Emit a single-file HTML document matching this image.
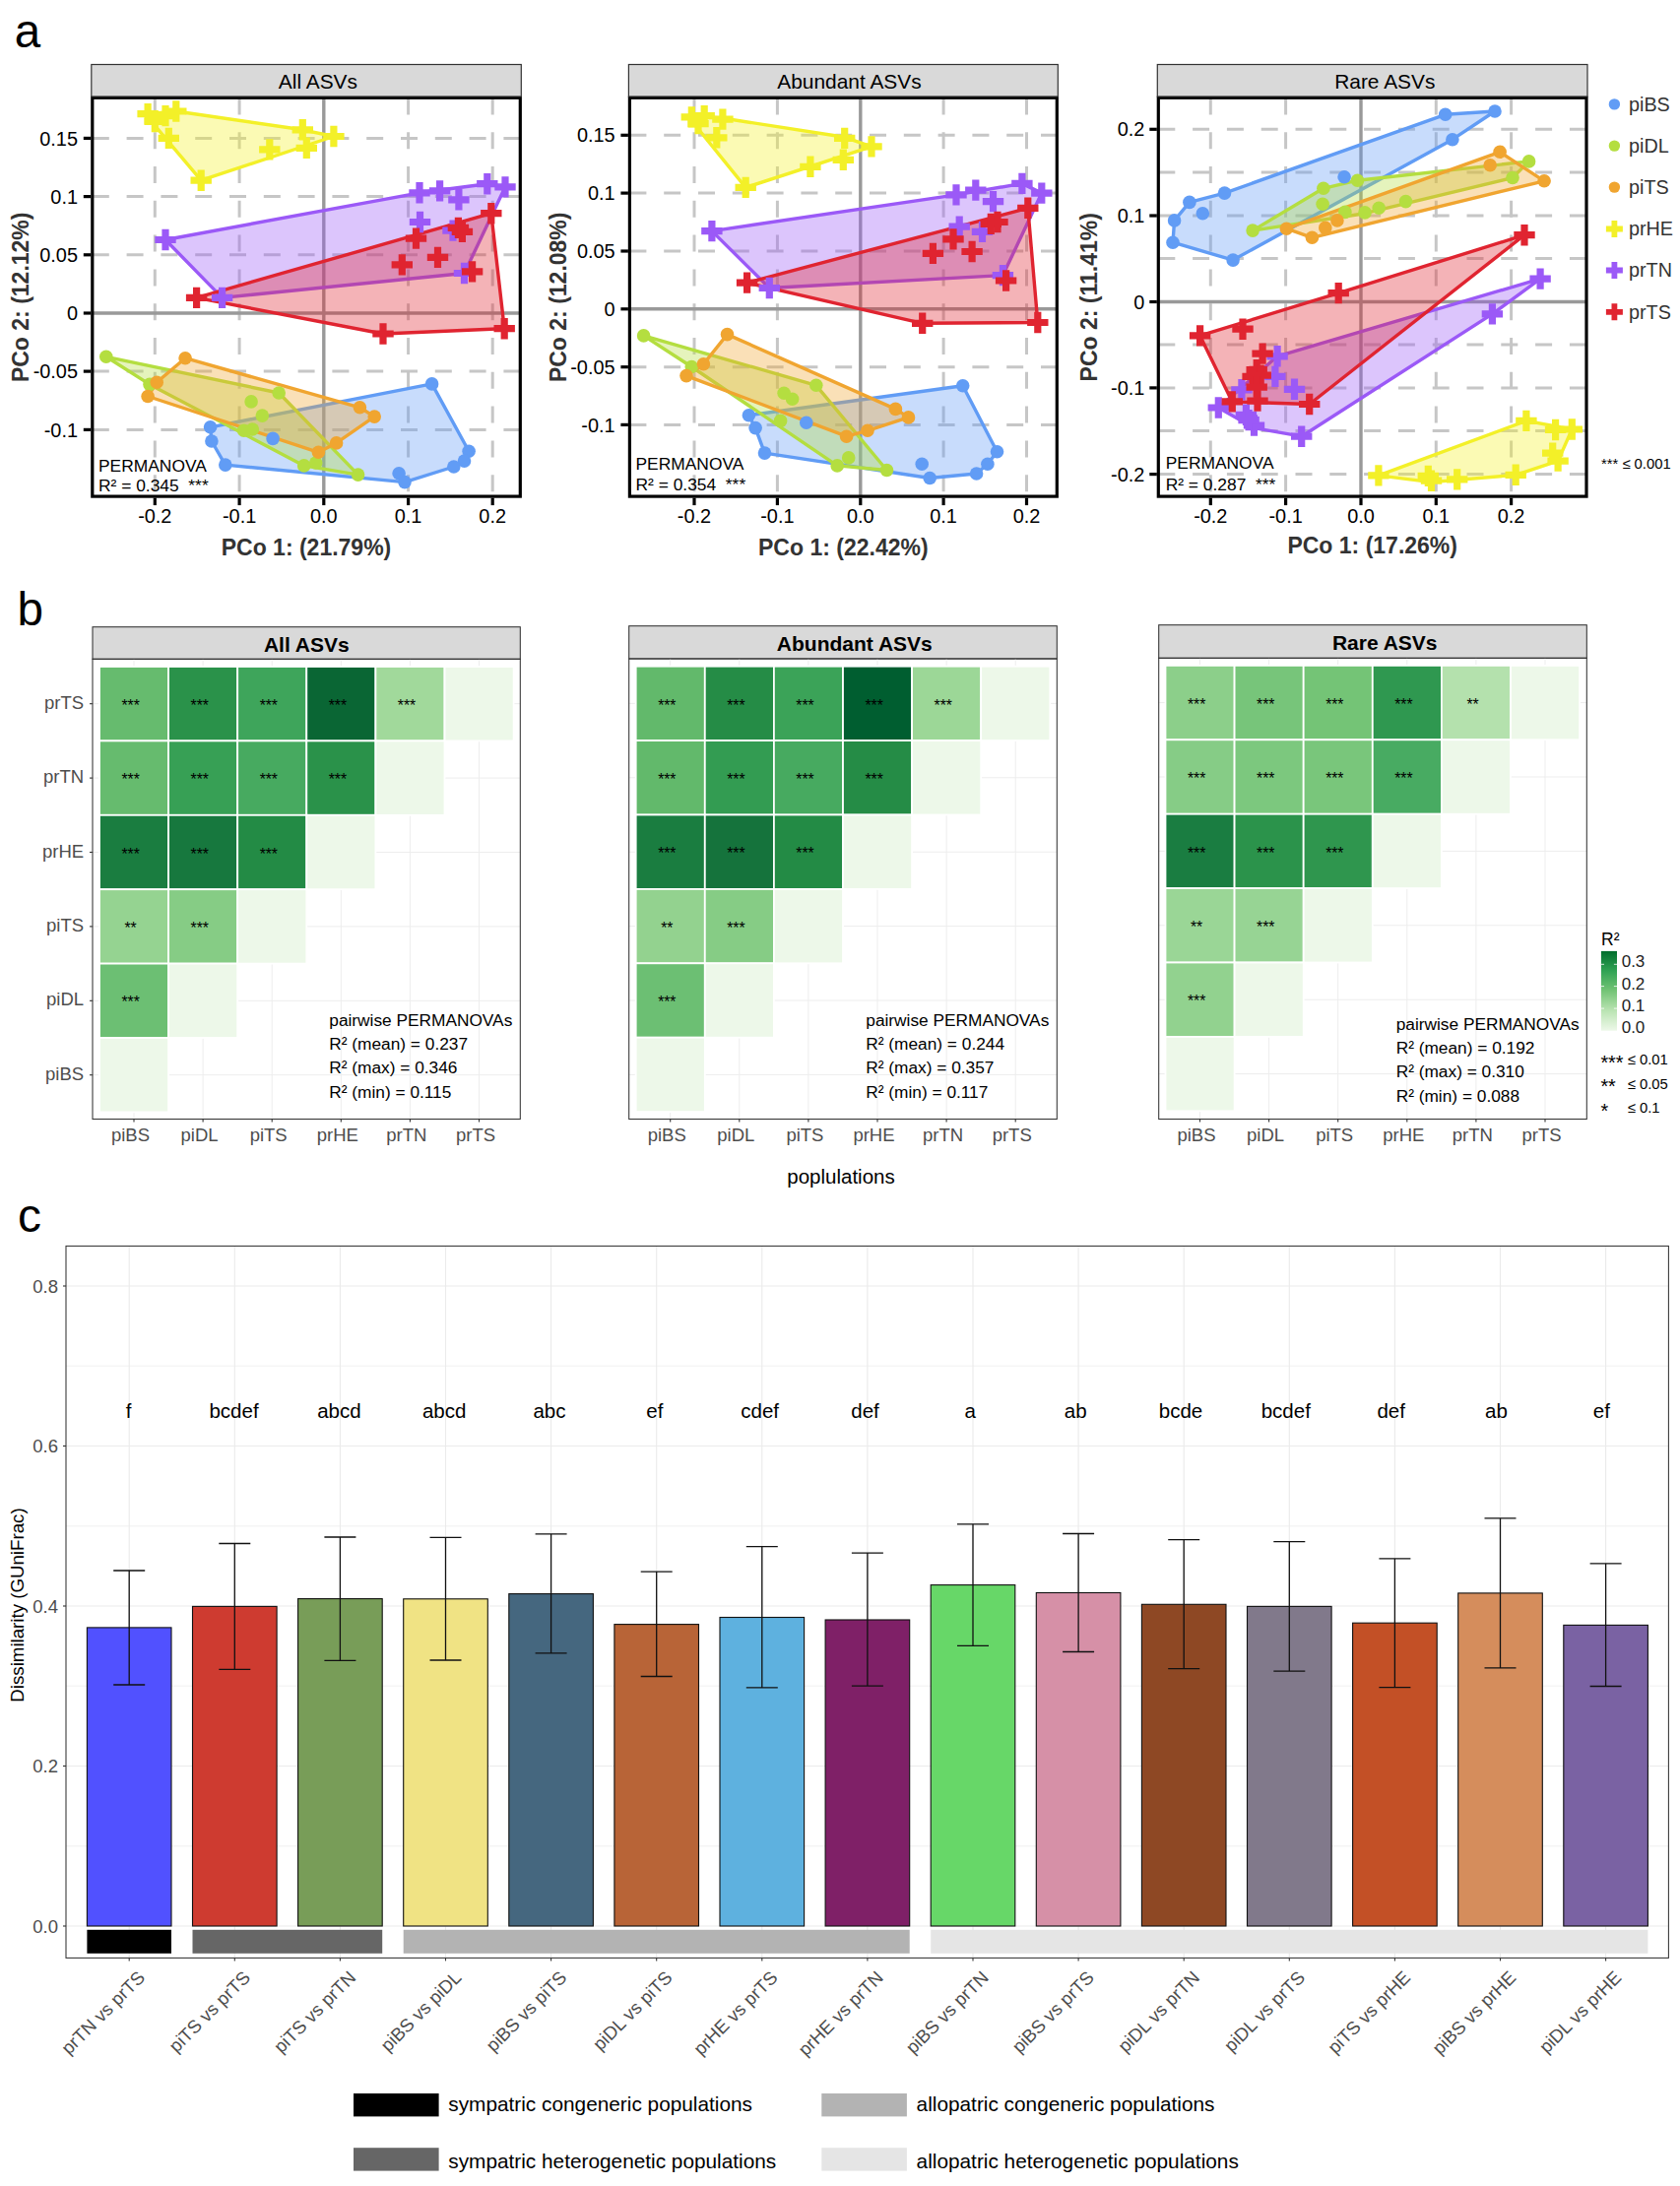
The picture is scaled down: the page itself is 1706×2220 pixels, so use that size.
<!DOCTYPE html><html><head><meta charset="utf-8"><title>fig</title><style>html,body{margin:0;padding:0;background:#fff}svg{display:block}text{font-family:"Liberation Sans",sans-serif}</style></head><body>
<svg width="1706" height="2220" viewBox="0 0 1706 2220">
<rect width="1706" height="2220" fill="#fff"/>
<text x="14.7" y="47.5" font-size="47.5" fill="#000">a</text>
<text x="17.4" y="634.8" font-size="47.7" fill="#000">b</text>
<text x="18.0" y="1251.2" font-size="47.8" fill="#000">c</text>
<g id="pa1">
<clipPath id="cl1"><rect x="93.8" y="99.4" width="434.5" height="404.7"/></clipPath>
<g clip-path="url(#cl1)">
<line x1="157.3" y1="99.4" x2="157.3" y2="504.1" stroke="#C6C6C6" stroke-width="3.0" stroke-dasharray="17 17.8"/>
<line x1="243.1" y1="99.4" x2="243.1" y2="504.1" stroke="#C6C6C6" stroke-width="3.0" stroke-dasharray="17 17.8"/>
<line x1="414.6" y1="99.4" x2="414.6" y2="504.1" stroke="#C6C6C6" stroke-width="3.0" stroke-dasharray="17 17.8"/>
<line x1="500.2" y1="99.4" x2="500.2" y2="504.1" stroke="#C6C6C6" stroke-width="3.0" stroke-dasharray="17 17.8"/>
<line x1="93.8" y1="140.4" x2="528.3" y2="140.4" stroke="#C6C6C6" stroke-width="3.0" stroke-dasharray="17 17.8"/>
<line x1="93.8" y1="199.6" x2="528.3" y2="199.6" stroke="#C6C6C6" stroke-width="3.0" stroke-dasharray="17 17.8"/>
<line x1="93.8" y1="258.8" x2="528.3" y2="258.8" stroke="#C6C6C6" stroke-width="3.0" stroke-dasharray="17 17.8"/>
<line x1="93.8" y1="377.1" x2="528.3" y2="377.1" stroke="#C6C6C6" stroke-width="3.0" stroke-dasharray="17 17.8"/>
<line x1="93.8" y1="436.4" x2="528.3" y2="436.4" stroke="#C6C6C6" stroke-width="3.0" stroke-dasharray="17 17.8"/>
<line x1="328.8" y1="99.4" x2="328.8" y2="504.1" stroke="#999" stroke-width="3.4"/>
<line x1="93.8" y1="318.0" x2="528.3" y2="318.0" stroke="#999" stroke-width="3.4"/>
<polygon points="438.6,389.9 476.1,458.2 471.5,468.1 460.8,474.0 411.0,489.6 228.8,472.1 214.9,448.0 213.6,433.8" fill="#619CF5" fill-opacity="0.35" stroke="#619CF5" stroke-width="3.4" stroke-linejoin="round"/>
<polygon points="107.8,362.3 283.2,399.0 363.6,482.1 308.7,472.9 152.0,390.4" fill="#B4DE40" fill-opacity="0.35" stroke="#B4DE40" stroke-width="3.4" stroke-linejoin="round"/>
<polygon points="188.1,363.7 365.4,413.8 380.2,423.1 341.6,449.9 323.4,459.3 150.1,402.5 159.2,388.3" fill="#F0A530" fill-opacity="0.35" stroke="#F0A530" stroke-width="3.4" stroke-linejoin="round"/>
<polygon points="150.1,115.7 178.8,113.0 307.3,131.8 338.9,138.5 204.2,183.2 155.2,125.1" fill="#F3F028" fill-opacity="0.35" stroke="#F3F028" stroke-width="3.4" stroke-linejoin="round"/>
<polygon points="168.0,243.5 426.0,195.8 494.8,186.7 513.0,189.9 471.5,277.5 225.6,302.4" fill="#9B59F7" fill-opacity="0.35" stroke="#9B59F7" stroke-width="3.4" stroke-linejoin="round"/>
<polygon points="199.6,302.4 498.8,216.7 512.2,333.7 389.0,339.0" fill="#E02430" fill-opacity="0.35" stroke="#E02430" stroke-width="3.4" stroke-linejoin="round"/>
<circle cx="438.6" cy="389.9" r="6.8" fill="#619CF5"/>
<circle cx="213.6" cy="433.8" r="6.8" fill="#619CF5"/>
<circle cx="214.9" cy="448.0" r="6.8" fill="#619CF5"/>
<circle cx="228.8" cy="472.1" r="6.8" fill="#619CF5"/>
<circle cx="277.1" cy="445.4" r="6.8" fill="#619CF5"/>
<circle cx="476.1" cy="458.2" r="6.8" fill="#619CF5"/>
<circle cx="471.5" cy="468.1" r="6.8" fill="#619CF5"/>
<circle cx="460.8" cy="474.0" r="6.8" fill="#619CF5"/>
<circle cx="405.1" cy="480.7" r="6.8" fill="#619CF5"/>
<circle cx="411.0" cy="489.6" r="6.8" fill="#619CF5"/>
<circle cx="107.8" cy="362.3" r="6.8" fill="#B4DE40"/>
<circle cx="152.0" cy="390.4" r="6.8" fill="#B4DE40"/>
<circle cx="283.2" cy="399.0" r="6.8" fill="#B4DE40"/>
<circle cx="255.1" cy="407.9" r="6.8" fill="#B4DE40"/>
<circle cx="266.3" cy="422.1" r="6.8" fill="#B4DE40"/>
<circle cx="247.6" cy="437.3" r="6.8" fill="#B4DE40"/>
<circle cx="256.4" cy="436.0" r="6.8" fill="#B4DE40"/>
<circle cx="308.7" cy="472.9" r="6.8" fill="#B4DE40"/>
<circle cx="320.7" cy="470.0" r="6.8" fill="#B4DE40"/>
<circle cx="363.6" cy="482.1" r="6.8" fill="#B4DE40"/>
<circle cx="188.1" cy="363.7" r="6.8" fill="#F0A530"/>
<circle cx="159.2" cy="388.3" r="6.8" fill="#F0A530"/>
<circle cx="150.1" cy="402.5" r="6.8" fill="#F0A530"/>
<circle cx="365.4" cy="413.8" r="6.8" fill="#F0A530"/>
<circle cx="380.2" cy="423.1" r="6.8" fill="#F0A530"/>
<circle cx="341.6" cy="449.9" r="6.8" fill="#F0A530"/>
<circle cx="323.4" cy="459.3" r="6.8" fill="#F0A530"/>
<path fill="#F3F028" d="M146.5 105.0h7.2v7.1h7.1v7.2h-7.1v7.1h-7.2v-7.1h-7.1v-7.2h7.1z"/>
<path fill="#F3F028" d="M153.7 112.8h7.2v7.1h7.1v7.2h-7.1v7.1h-7.2v-7.1h-7.1v-7.2h7.1z"/>
<path fill="#F3F028" d="M164.4 106.9h7.2v7.1h7.1v7.2h-7.1v7.1h-7.2v-7.1h-7.1v-7.2h7.1z"/>
<path fill="#F3F028" d="M175.2 102.3h7.2v7.1h7.1v7.2h-7.1v7.1h-7.2v-7.1h-7.1v-7.2h7.1z"/>
<path fill="#F3F028" d="M167.7 129.7h7.2v7.1h7.1v7.2h-7.1v7.1h-7.2v-7.1h-7.1v-7.2h7.1z"/>
<path fill="#F3F028" d="M200.6 172.5h7.2v7.1h7.1v7.2h-7.1v7.1h-7.2v-7.1h-7.1v-7.2h7.1z"/>
<path fill="#F3F028" d="M270.2 141.2h7.2v7.1h7.1v7.2h-7.1v7.1h-7.2v-7.1h-7.1v-7.2h7.1z"/>
<path fill="#F3F028" d="M307.7 139.6h7.2v7.1h7.1v7.2h-7.1v7.1h-7.2v-7.1h-7.1v-7.2h7.1z"/>
<path fill="#F3F028" d="M303.7 121.1h7.2v7.1h7.1v7.2h-7.1v7.1h-7.2v-7.1h-7.1v-7.2h7.1z"/>
<path fill="#F3F028" d="M335.3 127.8h7.2v7.1h7.1v7.2h-7.1v7.1h-7.2v-7.1h-7.1v-7.2h7.1z"/>
<path fill="#9B59F7" d="M164.4 232.8h7.2v7.1h7.1v7.2h-7.1v7.1h-7.2v-7.1h-7.1v-7.2h7.1z"/>
<path fill="#9B59F7" d="M222.0 291.7h7.2v7.1h7.1v7.2h-7.1v7.1h-7.2v-7.1h-7.1v-7.2h7.1z"/>
<path fill="#9B59F7" d="M422.4 185.1h7.2v7.1h7.1v7.2h-7.1v7.1h-7.2v-7.1h-7.1v-7.2h7.1z"/>
<path fill="#9B59F7" d="M443.0 183.2h7.2v7.1h7.1v7.2h-7.1v7.1h-7.2v-7.1h-7.1v-7.2h7.1z"/>
<path fill="#9B59F7" d="M462.3 192.1h7.2v7.1h7.1v7.2h-7.1v7.1h-7.2v-7.1h-7.1v-7.2h7.1z"/>
<path fill="#9B59F7" d="M491.2 176.0h7.2v7.1h7.1v7.2h-7.1v7.1h-7.2v-7.1h-7.1v-7.2h7.1z"/>
<path fill="#9B59F7" d="M509.4 179.2h7.2v7.1h7.1v7.2h-7.1v7.1h-7.2v-7.1h-7.1v-7.2h7.1z"/>
<path fill="#9B59F7" d="M422.9 214.8h7.2v7.1h7.1v7.2h-7.1v7.1h-7.2v-7.1h-7.1v-7.2h7.1z"/>
<path fill="#9B59F7" d="M456.4 223.4h7.2v7.1h7.1v7.2h-7.1v7.1h-7.2v-7.1h-7.1v-7.2h7.1z"/>
<path fill="#9B59F7" d="M467.9 266.8h7.2v7.1h7.1v7.2h-7.1v7.1h-7.2v-7.1h-7.1v-7.2h7.1z"/>
<path fill="#E02430" d="M196.0 291.7h7.2v7.1h7.1v7.2h-7.1v7.1h-7.2v-7.1h-7.1v-7.2h7.1z"/>
<path fill="#E02430" d="M418.9 231.4h7.2v7.1h7.1v7.2h-7.1v7.1h-7.2v-7.1h-7.1v-7.2h7.1z"/>
<path fill="#E02430" d="M461.8 220.7h7.2v7.1h7.1v7.2h-7.1v7.1h-7.2v-7.1h-7.1v-7.2h7.1z"/>
<path fill="#E02430" d="M465.8 224.7h7.2v7.1h7.1v7.2h-7.1v7.1h-7.2v-7.1h-7.1v-7.2h7.1z"/>
<path fill="#E02430" d="M495.2 206.0h7.2v7.1h7.1v7.2h-7.1v7.1h-7.2v-7.1h-7.1v-7.2h7.1z"/>
<path fill="#E02430" d="M404.7 258.2h7.2v7.1h7.1v7.2h-7.1v7.1h-7.2v-7.1h-7.1v-7.2h7.1z"/>
<path fill="#E02430" d="M440.9 250.7h7.2v7.1h7.1v7.2h-7.1v7.1h-7.2v-7.1h-7.1v-7.2h7.1z"/>
<path fill="#E02430" d="M476.0 265.2h7.2v7.1h7.1v7.2h-7.1v7.1h-7.2v-7.1h-7.1v-7.2h7.1z"/>
<path fill="#E02430" d="M385.4 328.3h7.2v7.1h7.1v7.2h-7.1v7.1h-7.2v-7.1h-7.1v-7.2h7.1z"/>
<path fill="#E02430" d="M508.6 323.0h7.2v7.1h7.1v7.2h-7.1v7.1h-7.2v-7.1h-7.1v-7.2h7.1z"/>
</g>
<rect x="93.8" y="99.3" width="434.5" height="404.8" fill="none" stroke="#000" stroke-width="3.2"/>
<rect x="92.8" y="65.5" width="436.5" height="32.5" fill="#D9D9D9" stroke="#333" stroke-width="1.2"/>
<text x="322.9" y="89.6" font-size="20.9" text-anchor="middle" fill="#000">All ASVs</text>
<line x1="157.3" y1="505.6" x2="157.3" y2="513.1" stroke="#000" stroke-width="3.2"/>
<line x1="243.1" y1="505.6" x2="243.1" y2="513.1" stroke="#000" stroke-width="3.2"/>
<line x1="328.8" y1="505.6" x2="328.8" y2="513.1" stroke="#000" stroke-width="3.2"/>
<line x1="414.6" y1="505.6" x2="414.6" y2="513.1" stroke="#000" stroke-width="3.2"/>
<line x1="500.2" y1="505.6" x2="500.2" y2="513.1" stroke="#000" stroke-width="3.2"/>
<text x="157.3" y="531.4" font-size="19.9" text-anchor="middle" fill="#000">-0.2</text>
<text x="243.1" y="531.4" font-size="19.9" text-anchor="middle" fill="#000">-0.1</text>
<text x="328.8" y="531.4" font-size="19.9" text-anchor="middle" fill="#000">0.0</text>
<text x="414.6" y="531.4" font-size="19.9" text-anchor="middle" fill="#000">0.1</text>
<text x="500.2" y="531.4" font-size="19.9" text-anchor="middle" fill="#000">0.2</text>
<line x1="84.8" y1="140.4" x2="92.3" y2="140.4" stroke="#000" stroke-width="3.2"/>
<text x="79.0" y="147.5" font-size="19.9" text-anchor="end" fill="#000">0.15</text>
<line x1="84.8" y1="199.6" x2="92.3" y2="199.6" stroke="#000" stroke-width="3.2"/>
<text x="79.0" y="206.7" font-size="19.9" text-anchor="end" fill="#000">0.1</text>
<line x1="84.8" y1="258.8" x2="92.3" y2="258.8" stroke="#000" stroke-width="3.2"/>
<text x="79.0" y="265.9" font-size="19.9" text-anchor="end" fill="#000">0.05</text>
<line x1="84.8" y1="318.0" x2="92.3" y2="318.0" stroke="#000" stroke-width="3.2"/>
<text x="79.0" y="325.1" font-size="19.9" text-anchor="end" fill="#000">0</text>
<line x1="84.8" y1="377.1" x2="92.3" y2="377.1" stroke="#000" stroke-width="3.2"/>
<text x="79.0" y="384.2" font-size="19.9" text-anchor="end" fill="#000">-0.05</text>
<line x1="84.8" y1="436.4" x2="92.3" y2="436.4" stroke="#000" stroke-width="3.2"/>
<text x="79.0" y="443.5" font-size="19.9" text-anchor="end" fill="#000">-0.1</text>
<text x="311.0" y="564.0" font-size="23" font-weight="bold" text-anchor="middle" fill="#333">PCo 1: (21.79%)</text>
<text transform="translate(29.4,301.8) rotate(-90)" font-size="23" font-weight="bold" text-anchor="middle" fill="#333">PCo 2: (12.12%)</text>
<text x="100.0" y="479.0" font-size="17.4" fill="#000">PERMANOVA</text>
<text x="100.0" y="498.8" font-size="17.4" fill="#000" xml:space="preserve">R² = 0.345  ***</text>
</g>
<g id="pa2">
<clipPath id="cl2"><rect x="639.4" y="99.4" width="433.9" height="404.7"/></clipPath>
<g clip-path="url(#cl2)">
<line x1="705.0" y1="99.4" x2="705.0" y2="504.1" stroke="#C6C6C6" stroke-width="3.0" stroke-dasharray="17 17.8"/>
<line x1="789.4" y1="99.4" x2="789.4" y2="504.1" stroke="#C6C6C6" stroke-width="3.0" stroke-dasharray="17 17.8"/>
<line x1="958.1" y1="99.4" x2="958.1" y2="504.1" stroke="#C6C6C6" stroke-width="3.0" stroke-dasharray="17 17.8"/>
<line x1="1042.5" y1="99.4" x2="1042.5" y2="504.1" stroke="#C6C6C6" stroke-width="3.0" stroke-dasharray="17 17.8"/>
<line x1="639.4" y1="137.3" x2="1073.3" y2="137.3" stroke="#C6C6C6" stroke-width="3.0" stroke-dasharray="17 17.8"/>
<line x1="639.4" y1="196.1" x2="1073.3" y2="196.1" stroke="#C6C6C6" stroke-width="3.0" stroke-dasharray="17 17.8"/>
<line x1="639.4" y1="255.0" x2="1073.3" y2="255.0" stroke="#C6C6C6" stroke-width="3.0" stroke-dasharray="17 17.8"/>
<line x1="639.4" y1="372.7" x2="1073.3" y2="372.7" stroke="#C6C6C6" stroke-width="3.0" stroke-dasharray="17 17.8"/>
<line x1="639.4" y1="431.4" x2="1073.3" y2="431.4" stroke="#C6C6C6" stroke-width="3.0" stroke-dasharray="17 17.8"/>
<line x1="873.8" y1="99.4" x2="873.8" y2="504.1" stroke="#999" stroke-width="3.4"/>
<line x1="639.4" y1="313.8" x2="1073.3" y2="313.8" stroke="#999" stroke-width="3.4"/>
<polygon points="977.7,391.8 1012.5,458.8 1002.9,471.3 991.6,481.0 944.2,485.5 776.5,460.1 767.1,434.6 760.4,421.8" fill="#619CF5" fill-opacity="0.35" stroke="#619CF5" stroke-width="3.4" stroke-linejoin="round"/>
<polygon points="653.6,340.9 828.8,391.3 900.5,477.5 850.2,472.9 702.3,372.5" fill="#B4DE40" fill-opacity="0.35" stroke="#B4DE40" stroke-width="3.4" stroke-linejoin="round"/>
<polygon points="738.5,339.6 909.4,415.4 922.5,423.9 881.0,437.3 859.6,443.2 697.0,381.6 714.4,369.8" fill="#F0A530" fill-opacity="0.35" stroke="#F0A530" stroke-width="3.4" stroke-linejoin="round"/>
<polygon points="701.0,117.6 733.9,120.0 857.7,139.3 885.0,148.9 757.2,190.4 706.3,127.5" fill="#F3F028" fill-opacity="0.35" stroke="#F3F028" stroke-width="3.4" stroke-linejoin="round"/>
<polygon points="722.9,234.6 971.0,197.9 1037.9,186.4 1057.8,196.1 1018.4,279.6 781.3,292.5" fill="#9B59F7" fill-opacity="0.35" stroke="#9B59F7" stroke-width="3.4" stroke-linejoin="round"/>
<polygon points="758.6,287.1 1043.8,211.3 1053.8,327.5 936.7,328.3" fill="#E02430" fill-opacity="0.35" stroke="#E02430" stroke-width="3.4" stroke-linejoin="round"/>
<circle cx="977.7" cy="391.8" r="6.8" fill="#619CF5"/>
<circle cx="760.4" cy="421.8" r="6.8" fill="#619CF5"/>
<circle cx="767.1" cy="434.6" r="6.8" fill="#619CF5"/>
<circle cx="776.5" cy="460.1" r="6.8" fill="#619CF5"/>
<circle cx="818.8" cy="429.3" r="6.8" fill="#619CF5"/>
<circle cx="1012.5" cy="458.8" r="6.8" fill="#619CF5"/>
<circle cx="1002.9" cy="471.3" r="6.8" fill="#619CF5"/>
<circle cx="991.6" cy="481.0" r="6.8" fill="#619CF5"/>
<circle cx="936.2" cy="471.3" r="6.8" fill="#619CF5"/>
<circle cx="944.2" cy="485.5" r="6.8" fill="#619CF5"/>
<circle cx="653.6" cy="340.9" r="6.8" fill="#B4DE40"/>
<circle cx="702.3" cy="372.5" r="6.8" fill="#B4DE40"/>
<circle cx="828.8" cy="391.3" r="6.8" fill="#B4DE40"/>
<circle cx="796.1" cy="399.3" r="6.8" fill="#B4DE40"/>
<circle cx="804.6" cy="405.2" r="6.8" fill="#B4DE40"/>
<circle cx="792.6" cy="427.4" r="6.8" fill="#B4DE40"/>
<circle cx="861.7" cy="464.9" r="6.8" fill="#B4DE40"/>
<circle cx="850.2" cy="472.9" r="6.8" fill="#B4DE40"/>
<circle cx="900.5" cy="477.5" r="6.8" fill="#B4DE40"/>
<circle cx="738.5" cy="339.6" r="6.8" fill="#F0A530"/>
<circle cx="714.4" cy="369.8" r="6.8" fill="#F0A530"/>
<circle cx="697.0" cy="381.6" r="6.8" fill="#F0A530"/>
<circle cx="909.4" cy="415.4" r="6.8" fill="#F0A530"/>
<circle cx="922.5" cy="423.9" r="6.8" fill="#F0A530"/>
<circle cx="881.0" cy="437.3" r="6.8" fill="#F0A530"/>
<circle cx="859.6" cy="443.2" r="6.8" fill="#F0A530"/>
<path fill="#F3F028" d="M698.7 108.2h7.2v7.1h7.1v7.2h-7.1v7.1h-7.2v-7.1h-7.1v-7.2h7.1z"/>
<path fill="#F3F028" d="M705.4 114.9h7.2v7.1h7.1v7.2h-7.1v7.1h-7.2v-7.1h-7.1v-7.2h7.1z"/>
<path fill="#F3F028" d="M711.6 106.9h7.2v7.1h7.1v7.2h-7.1v7.1h-7.2v-7.1h-7.1v-7.2h7.1z"/>
<path fill="#F3F028" d="M730.3 110.4h7.2v7.1h7.1v7.2h-7.1v7.1h-7.2v-7.1h-7.1v-7.2h7.1z"/>
<path fill="#F3F028" d="M724.2 129.1h7.2v7.1h7.1v7.2h-7.1v7.1h-7.2v-7.1h-7.1v-7.2h7.1z"/>
<path fill="#F3F028" d="M753.6 179.7h7.2v7.1h7.1v7.2h-7.1v7.1h-7.2v-7.1h-7.1v-7.2h7.1z"/>
<path fill="#F3F028" d="M819.3 158.6h7.2v7.1h7.1v7.2h-7.1v7.1h-7.2v-7.1h-7.1v-7.2h7.1z"/>
<path fill="#F3F028" d="M852.7 151.6h7.2v7.1h7.1v7.2h-7.1v7.1h-7.2v-7.1h-7.1v-7.2h7.1z"/>
<path fill="#F3F028" d="M854.1 129.7h7.2v7.1h7.1v7.2h-7.1v7.1h-7.2v-7.1h-7.1v-7.2h7.1z"/>
<path fill="#F3F028" d="M881.4 138.2h7.2v7.1h7.1v7.2h-7.1v7.1h-7.2v-7.1h-7.1v-7.2h7.1z"/>
<path fill="#9B59F7" d="M719.3 223.9h7.2v7.1h7.1v7.2h-7.1v7.1h-7.2v-7.1h-7.1v-7.2h7.1z"/>
<path fill="#9B59F7" d="M777.7 281.8h7.2v7.1h7.1v7.2h-7.1v7.1h-7.2v-7.1h-7.1v-7.2h7.1z"/>
<path fill="#9B59F7" d="M967.4 187.2h7.2v7.1h7.1v7.2h-7.1v7.1h-7.2v-7.1h-7.1v-7.2h7.1z"/>
<path fill="#9B59F7" d="M987.2 182.4h7.2v7.1h7.1v7.2h-7.1v7.1h-7.2v-7.1h-7.1v-7.2h7.1z"/>
<path fill="#9B59F7" d="M1004.9 193.9h7.2v7.1h7.1v7.2h-7.1v7.1h-7.2v-7.1h-7.1v-7.2h7.1z"/>
<path fill="#9B59F7" d="M1034.3 175.7h7.2v7.1h7.1v7.2h-7.1v7.1h-7.2v-7.1h-7.1v-7.2h7.1z"/>
<path fill="#9B59F7" d="M1054.2 185.4h7.2v7.1h7.1v7.2h-7.1v7.1h-7.2v-7.1h-7.1v-7.2h7.1z"/>
<path fill="#9B59F7" d="M970.6 219.4h7.2v7.1h7.1v7.2h-7.1v7.1h-7.2v-7.1h-7.1v-7.2h7.1z"/>
<path fill="#9B59F7" d="M993.9 224.7h7.2v7.1h7.1v7.2h-7.1v7.1h-7.2v-7.1h-7.1v-7.2h7.1z"/>
<path fill="#9B59F7" d="M1014.8 268.9h7.2v7.1h7.1v7.2h-7.1v7.1h-7.2v-7.1h-7.1v-7.2h7.1z"/>
<path fill="#E02430" d="M755.0 276.4h7.2v7.1h7.1v7.2h-7.1v7.1h-7.2v-7.1h-7.1v-7.2h7.1z"/>
<path fill="#E02430" d="M964.4 232.2h7.2v7.1h7.1v7.2h-7.1v7.1h-7.2v-7.1h-7.1v-7.2h7.1z"/>
<path fill="#E02430" d="M1002.7 216.7h7.2v7.1h7.1v7.2h-7.1v7.1h-7.2v-7.1h-7.1v-7.2h7.1z"/>
<path fill="#E02430" d="M1009.4 214.8h7.2v7.1h7.1v7.2h-7.1v7.1h-7.2v-7.1h-7.1v-7.2h7.1z"/>
<path fill="#E02430" d="M1040.2 200.6h7.2v7.1h7.1v7.2h-7.1v7.1h-7.2v-7.1h-7.1v-7.2h7.1z"/>
<path fill="#E02430" d="M943.8 246.7h7.2v7.1h7.1v7.2h-7.1v7.1h-7.2v-7.1h-7.1v-7.2h7.1z"/>
<path fill="#E02430" d="M983.5 244.8h7.2v7.1h7.1v7.2h-7.1v7.1h-7.2v-7.1h-7.1v-7.2h7.1z"/>
<path fill="#E02430" d="M1018.0 274.3h7.2v7.1h7.1v7.2h-7.1v7.1h-7.2v-7.1h-7.1v-7.2h7.1z"/>
<path fill="#E02430" d="M933.1 317.6h7.2v7.1h7.1v7.2h-7.1v7.1h-7.2v-7.1h-7.1v-7.2h7.1z"/>
<path fill="#E02430" d="M1050.2 316.8h7.2v7.1h7.1v7.2h-7.1v7.1h-7.2v-7.1h-7.1v-7.2h7.1z"/>
</g>
<rect x="639.4" y="99.3" width="433.9" height="404.8" fill="none" stroke="#000" stroke-width="3.2"/>
<rect x="638.4" y="65.5" width="435.9" height="32.5" fill="#D9D9D9" stroke="#333" stroke-width="1.2"/>
<text x="862.5" y="89.6" font-size="20.9" text-anchor="middle" fill="#000">Abundant ASVs</text>
<line x1="705.0" y1="505.6" x2="705.0" y2="513.1" stroke="#000" stroke-width="3.2"/>
<line x1="789.4" y1="505.6" x2="789.4" y2="513.1" stroke="#000" stroke-width="3.2"/>
<line x1="873.8" y1="505.6" x2="873.8" y2="513.1" stroke="#000" stroke-width="3.2"/>
<line x1="958.1" y1="505.6" x2="958.1" y2="513.1" stroke="#000" stroke-width="3.2"/>
<line x1="1042.5" y1="505.6" x2="1042.5" y2="513.1" stroke="#000" stroke-width="3.2"/>
<text x="705.0" y="531.4" font-size="19.9" text-anchor="middle" fill="#000">-0.2</text>
<text x="789.4" y="531.4" font-size="19.9" text-anchor="middle" fill="#000">-0.1</text>
<text x="873.8" y="531.4" font-size="19.9" text-anchor="middle" fill="#000">0.0</text>
<text x="958.1" y="531.4" font-size="19.9" text-anchor="middle" fill="#000">0.1</text>
<text x="1042.5" y="531.4" font-size="19.9" text-anchor="middle" fill="#000">0.2</text>
<line x1="630.4" y1="137.3" x2="637.9" y2="137.3" stroke="#000" stroke-width="3.2"/>
<text x="624.6" y="144.4" font-size="19.9" text-anchor="end" fill="#000">0.15</text>
<line x1="630.4" y1="196.1" x2="637.9" y2="196.1" stroke="#000" stroke-width="3.2"/>
<text x="624.6" y="203.2" font-size="19.9" text-anchor="end" fill="#000">0.1</text>
<line x1="630.4" y1="255.0" x2="637.9" y2="255.0" stroke="#000" stroke-width="3.2"/>
<text x="624.6" y="262.1" font-size="19.9" text-anchor="end" fill="#000">0.05</text>
<line x1="630.4" y1="313.8" x2="637.9" y2="313.8" stroke="#000" stroke-width="3.2"/>
<text x="624.6" y="320.9" font-size="19.9" text-anchor="end" fill="#000">0</text>
<line x1="630.4" y1="372.7" x2="637.9" y2="372.7" stroke="#000" stroke-width="3.2"/>
<text x="624.6" y="379.8" font-size="19.9" text-anchor="end" fill="#000">-0.05</text>
<line x1="630.4" y1="431.4" x2="637.9" y2="431.4" stroke="#000" stroke-width="3.2"/>
<text x="624.6" y="438.5" font-size="19.9" text-anchor="end" fill="#000">-0.1</text>
<text x="856.3" y="564.0" font-size="23" font-weight="bold" text-anchor="middle" fill="#333">PCo 1: (22.42%)</text>
<text transform="translate(575.1,301.8) rotate(-90)" font-size="23" font-weight="bold" text-anchor="middle" fill="#333">PCo 2: (12.08%)</text>
<text x="645.5" y="476.9" font-size="17.4" fill="#000">PERMANOVA</text>
<text x="645.5" y="497.7" font-size="17.4" fill="#000" xml:space="preserve">R² = 0.354  ***</text>
</g>
<g id="pa3">
<clipPath id="cl3"><rect x="1176.3" y="99.4" width="434.7" height="404.7"/></clipPath>
<g clip-path="url(#cl3)">
<line x1="1229.3" y1="99.4" x2="1229.3" y2="504.1" stroke="#C6C6C6" stroke-width="3.0" stroke-dasharray="17 17.8"/>
<line x1="1305.6" y1="99.4" x2="1305.6" y2="504.1" stroke="#C6C6C6" stroke-width="3.0" stroke-dasharray="17 17.8"/>
<line x1="1458.3" y1="99.4" x2="1458.3" y2="504.1" stroke="#C6C6C6" stroke-width="3.0" stroke-dasharray="17 17.8"/>
<line x1="1534.6" y1="99.4" x2="1534.6" y2="504.1" stroke="#C6C6C6" stroke-width="3.0" stroke-dasharray="17 17.8"/>
<line x1="1176.3" y1="131.3" x2="1611.0" y2="131.3" stroke="#C6C6C6" stroke-width="3.0" stroke-dasharray="17 17.8"/>
<line x1="1176.3" y1="175.0" x2="1611.0" y2="175.0" stroke="#C6C6C6" stroke-width="3.0" stroke-dasharray="17 17.8"/>
<line x1="1176.3" y1="219.0" x2="1611.0" y2="219.0" stroke="#C6C6C6" stroke-width="3.0" stroke-dasharray="17 17.8"/>
<line x1="1176.3" y1="262.6" x2="1611.0" y2="262.6" stroke="#C6C6C6" stroke-width="3.0" stroke-dasharray="17 17.8"/>
<line x1="1176.3" y1="350.0" x2="1611.0" y2="350.0" stroke="#C6C6C6" stroke-width="3.0" stroke-dasharray="17 17.8"/>
<line x1="1176.3" y1="393.9" x2="1611.0" y2="393.9" stroke="#C6C6C6" stroke-width="3.0" stroke-dasharray="17 17.8"/>
<line x1="1176.3" y1="437.5" x2="1611.0" y2="437.5" stroke="#C6C6C6" stroke-width="3.0" stroke-dasharray="17 17.8"/>
<line x1="1176.3" y1="481.6" x2="1611.0" y2="481.6" stroke="#C6C6C6" stroke-width="3.0" stroke-dasharray="17 17.8"/>
<line x1="1382.0" y1="99.4" x2="1382.0" y2="504.1" stroke="#999" stroke-width="3.4"/>
<line x1="1176.3" y1="306.5" x2="1611.0" y2="306.5" stroke="#999" stroke-width="3.4"/>
<polygon points="1467.7,116.3 1518.0,113.0 1474.9,141.7 1252.1,264.1 1191.0,246.2 1192.6,223.9 1207.9,205.4 1243.5,196.1" fill="#619CF5" fill-opacity="0.35" stroke="#619CF5" stroke-width="3.4" stroke-linejoin="round"/>
<polygon points="1272.1,234.1 1343.9,191.3 1378.5,183.2 1552.6,163.9 1536.0,180.5 1386.0,216.7" fill="#B4DE40" fill-opacity="0.35" stroke="#B4DE40" stroke-width="3.4" stroke-linejoin="round"/>
<polygon points="1306.4,232.2 1523.1,154.3 1568.1,183.8 1332.4,241.3" fill="#F0A530" fill-opacity="0.35" stroke="#F0A530" stroke-width="3.4" stroke-linejoin="round"/>
<polygon points="1399.9,482.9 1549.9,427.4 1596.3,436.0 1582.1,468.1 1539.2,482.3 1453.5,489.6" fill="#F3F028" fill-opacity="0.35" stroke="#F3F028" stroke-width="3.4" stroke-linejoin="round"/>
<polygon points="1564.1,283.1 1515.4,318.9 1321.7,443.2 1273.5,434.6 1237.3,414.0 1297.1,361.8" fill="#9B59F7" fill-opacity="0.35" stroke="#9B59F7" stroke-width="3.4" stroke-linejoin="round"/>
<polygon points="1548.0,238.7 1329.7,410.5 1251.3,407.9 1218.6,340.9 1359.2,297.6" fill="#E02430" fill-opacity="0.35" stroke="#E02430" stroke-width="3.4" stroke-linejoin="round"/>
<circle cx="1467.7" cy="116.3" r="6.8" fill="#619CF5"/>
<circle cx="1518.0" cy="113.0" r="6.8" fill="#619CF5"/>
<circle cx="1474.9" cy="141.7" r="6.8" fill="#619CF5"/>
<circle cx="1365.1" cy="179.7" r="6.8" fill="#619CF5"/>
<circle cx="1243.5" cy="196.1" r="6.8" fill="#619CF5"/>
<circle cx="1207.9" cy="205.4" r="6.8" fill="#619CF5"/>
<circle cx="1221.3" cy="216.7" r="6.8" fill="#619CF5"/>
<circle cx="1192.6" cy="223.9" r="6.8" fill="#619CF5"/>
<circle cx="1191.0" cy="246.2" r="6.8" fill="#619CF5"/>
<circle cx="1252.1" cy="264.1" r="6.8" fill="#619CF5"/>
<circle cx="1272.1" cy="234.1" r="6.8" fill="#B4DE40"/>
<circle cx="1343.9" cy="191.3" r="6.8" fill="#B4DE40"/>
<circle cx="1378.5" cy="183.2" r="6.8" fill="#B4DE40"/>
<circle cx="1343.1" cy="207.3" r="6.8" fill="#B4DE40"/>
<circle cx="1365.9" cy="215.4" r="6.8" fill="#B4DE40"/>
<circle cx="1386.0" cy="215.9" r="6.8" fill="#B4DE40"/>
<circle cx="1400.2" cy="211.3" r="6.8" fill="#B4DE40"/>
<circle cx="1427.5" cy="204.6" r="6.8" fill="#B4DE40"/>
<circle cx="1552.6" cy="163.9" r="6.8" fill="#B4DE40"/>
<circle cx="1536.0" cy="180.5" r="6.8" fill="#B4DE40"/>
<circle cx="1306.4" cy="232.2" r="6.8" fill="#F0A530"/>
<circle cx="1332.4" cy="241.3" r="6.8" fill="#F0A530"/>
<circle cx="1345.8" cy="231.4" r="6.8" fill="#F0A530"/>
<circle cx="1357.9" cy="223.9" r="6.8" fill="#F0A530"/>
<circle cx="1513.2" cy="167.7" r="6.8" fill="#F0A530"/>
<circle cx="1523.1" cy="154.3" r="6.8" fill="#F0A530"/>
<circle cx="1568.1" cy="183.8" r="6.8" fill="#F0A530"/>
<path fill="#F3F028" d="M1396.3 472.2h7.2v7.1h7.1v7.2h-7.1v7.1h-7.2v-7.1h-7.1v-7.2h7.1z"/>
<path fill="#F3F028" d="M1446.7 472.7h7.2v7.1h7.1v7.2h-7.1v7.1h-7.2v-7.1h-7.1v-7.2h7.1z"/>
<path fill="#F3F028" d="M1449.9 477.5h7.2v7.1h7.1v7.2h-7.1v7.1h-7.2v-7.1h-7.1v-7.2h7.1z"/>
<path fill="#F3F028" d="M1476.1 476.2h7.2v7.1h7.1v7.2h-7.1v7.1h-7.2v-7.1h-7.1v-7.2h7.1z"/>
<path fill="#F3F028" d="M1535.6 471.6h7.2v7.1h7.1v7.2h-7.1v7.1h-7.2v-7.1h-7.1v-7.2h7.1z"/>
<path fill="#F3F028" d="M1546.3 416.7h7.2v7.1h7.1v7.2h-7.1v7.1h-7.2v-7.1h-7.1v-7.2h7.1z"/>
<path fill="#F3F028" d="M1576.0 425.8h7.2v7.1h7.1v7.2h-7.1v7.1h-7.2v-7.1h-7.1v-7.2h7.1z"/>
<path fill="#F3F028" d="M1592.7 425.3h7.2v7.1h7.1v7.2h-7.1v7.1h-7.2v-7.1h-7.1v-7.2h7.1z"/>
<path fill="#F3F028" d="M1573.1 449.4h7.2v7.1h7.1v7.2h-7.1v7.1h-7.2v-7.1h-7.1v-7.2h7.1z"/>
<path fill="#F3F028" d="M1578.5 457.4h7.2v7.1h7.1v7.2h-7.1v7.1h-7.2v-7.1h-7.1v-7.2h7.1z"/>
<path fill="#9B59F7" d="M1560.5 272.4h7.2v7.1h7.1v7.2h-7.1v7.1h-7.2v-7.1h-7.1v-7.2h7.1z"/>
<path fill="#9B59F7" d="M1511.8 308.2h7.2v7.1h7.1v7.2h-7.1v7.1h-7.2v-7.1h-7.1v-7.2h7.1z"/>
<path fill="#9B59F7" d="M1293.5 351.1h7.2v7.1h7.1v7.2h-7.1v7.1h-7.2v-7.1h-7.1v-7.2h7.1z"/>
<path fill="#9B59F7" d="M1291.3 371.7h7.2v7.1h7.1v7.2h-7.1v7.1h-7.2v-7.1h-7.1v-7.2h7.1z"/>
<path fill="#9B59F7" d="M1257.3 385.1h7.2v7.1h7.1v7.2h-7.1v7.1h-7.2v-7.1h-7.1v-7.2h7.1z"/>
<path fill="#9B59F7" d="M1310.9 384.6h7.2v7.1h7.1v7.2h-7.1v7.1h-7.2v-7.1h-7.1v-7.2h7.1z"/>
<path fill="#9B59F7" d="M1233.7 403.3h7.2v7.1h7.1v7.2h-7.1v7.1h-7.2v-7.1h-7.1v-7.2h7.1z"/>
<path fill="#9B59F7" d="M1261.8 410.6h7.2v7.1h7.1v7.2h-7.1v7.1h-7.2v-7.1h-7.1v-7.2h7.1z"/>
<path fill="#9B59F7" d="M1269.9 421.3h7.2v7.1h7.1v7.2h-7.1v7.1h-7.2v-7.1h-7.1v-7.2h7.1z"/>
<path fill="#9B59F7" d="M1264.5 415.9h7.2v7.1h7.1v7.2h-7.1v7.1h-7.2v-7.1h-7.1v-7.2h7.1z"/>
<path fill="#9B59F7" d="M1318.1 432.5h7.2v7.1h7.1v7.2h-7.1v7.1h-7.2v-7.1h-7.1v-7.2h7.1z"/>
<path fill="#E02430" d="M1544.4 228.0h7.2v7.1h7.1v7.2h-7.1v7.1h-7.2v-7.1h-7.1v-7.2h7.1z"/>
<path fill="#E02430" d="M1355.6 286.9h7.2v7.1h7.1v7.2h-7.1v7.1h-7.2v-7.1h-7.1v-7.2h7.1z"/>
<path fill="#E02430" d="M1215.0 330.2h7.2v7.1h7.1v7.2h-7.1v7.1h-7.2v-7.1h-7.1v-7.2h7.1z"/>
<path fill="#E02430" d="M1258.4 323.5h7.2v7.1h7.1v7.2h-7.1v7.1h-7.2v-7.1h-7.1v-7.2h7.1z"/>
<path fill="#E02430" d="M1278.5 348.4h7.2v7.1h7.1v7.2h-7.1v7.1h-7.2v-7.1h-7.1v-7.2h7.1z"/>
<path fill="#E02430" d="M1272.6 365.0h7.2v7.1h7.1v7.2h-7.1v7.1h-7.2v-7.1h-7.1v-7.2h7.1z"/>
<path fill="#E02430" d="M1268.5 371.7h7.2v7.1h7.1v7.2h-7.1v7.1h-7.2v-7.1h-7.1v-7.2h7.1z"/>
<path fill="#E02430" d="M1276.6 370.4h7.2v7.1h7.1v7.2h-7.1v7.1h-7.2v-7.1h-7.1v-7.2h7.1z"/>
<path fill="#E02430" d="M1272.6 382.4h7.2v7.1h7.1v7.2h-7.1v7.1h-7.2v-7.1h-7.1v-7.2h7.1z"/>
<path fill="#E02430" d="M1247.7 397.2h7.2v7.1h7.1v7.2h-7.1v7.1h-7.2v-7.1h-7.1v-7.2h7.1z"/>
<path fill="#E02430" d="M1273.4 396.4h7.2v7.1h7.1v7.2h-7.1v7.1h-7.2v-7.1h-7.1v-7.2h7.1z"/>
<path fill="#E02430" d="M1326.1 399.8h7.2v7.1h7.1v7.2h-7.1v7.1h-7.2v-7.1h-7.1v-7.2h7.1z"/>
</g>
<rect x="1176.3" y="99.3" width="434.7" height="404.8" fill="none" stroke="#000" stroke-width="3.2"/>
<rect x="1175.3" y="65.5" width="436.7" height="32.5" fill="#D9D9D9" stroke="#333" stroke-width="1.2"/>
<text x="1406.3" y="89.6" font-size="20.9" text-anchor="middle" fill="#000">Rare ASVs</text>
<line x1="1229.3" y1="505.6" x2="1229.3" y2="513.1" stroke="#000" stroke-width="3.2"/>
<line x1="1305.6" y1="505.6" x2="1305.6" y2="513.1" stroke="#000" stroke-width="3.2"/>
<line x1="1382.0" y1="505.6" x2="1382.0" y2="513.1" stroke="#000" stroke-width="3.2"/>
<line x1="1458.3" y1="505.6" x2="1458.3" y2="513.1" stroke="#000" stroke-width="3.2"/>
<line x1="1534.6" y1="505.6" x2="1534.6" y2="513.1" stroke="#000" stroke-width="3.2"/>
<text x="1229.3" y="531.4" font-size="19.9" text-anchor="middle" fill="#000">-0.2</text>
<text x="1305.6" y="531.4" font-size="19.9" text-anchor="middle" fill="#000">-0.1</text>
<text x="1382.0" y="531.4" font-size="19.9" text-anchor="middle" fill="#000">0.0</text>
<text x="1458.3" y="531.4" font-size="19.9" text-anchor="middle" fill="#000">0.1</text>
<text x="1534.6" y="531.4" font-size="19.9" text-anchor="middle" fill="#000">0.2</text>
<line x1="1167.3" y1="131.3" x2="1174.8" y2="131.3" stroke="#000" stroke-width="3.2"/>
<text x="1162.4" y="138.4" font-size="19.9" text-anchor="end" fill="#000">0.2</text>
<line x1="1167.3" y1="219.0" x2="1174.8" y2="219.0" stroke="#000" stroke-width="3.2"/>
<text x="1162.4" y="226.1" font-size="19.9" text-anchor="end" fill="#000">0.1</text>
<line x1="1167.3" y1="306.5" x2="1174.8" y2="306.5" stroke="#000" stroke-width="3.2"/>
<text x="1162.4" y="313.6" font-size="19.9" text-anchor="end" fill="#000">0</text>
<line x1="1167.3" y1="393.9" x2="1174.8" y2="393.9" stroke="#000" stroke-width="3.2"/>
<text x="1162.4" y="401.0" font-size="19.9" text-anchor="end" fill="#000">-0.1</text>
<line x1="1167.3" y1="481.6" x2="1174.8" y2="481.6" stroke="#000" stroke-width="3.2"/>
<text x="1162.4" y="488.7" font-size="19.9" text-anchor="end" fill="#000">-0.2</text>
<text x="1393.7" y="561.5" font-size="23" font-weight="bold" text-anchor="middle" fill="#333">PCo 1: (17.26%)</text>
<text transform="translate(1113.8,301.8) rotate(-90)" font-size="23" font-weight="bold" text-anchor="middle" fill="#333">PCo 2: (11.41%)</text>
<text x="1183.7" y="476.3" font-size="17.4" fill="#000">PERMANOVA</text>
<text x="1183.7" y="497.7" font-size="17.4" fill="#000" xml:space="preserve">R² = 0.287  ***</text>
</g>
<circle cx="1639.4" cy="105.9" r="5.7" fill="#619CF5"/>
<text x="1654.0" y="112.6" font-size="19.8" fill="#333">piBS</text>
<circle cx="1639.4" cy="148.1" r="5.7" fill="#B4DE40"/>
<text x="1654.0" y="154.8" font-size="19.8" fill="#333">piDL</text>
<circle cx="1639.4" cy="190.1" r="5.7" fill="#F0A530"/>
<text x="1654.0" y="196.8" font-size="19.8" fill="#333">piTS</text>
<path fill="#F3F028" d="M1636.5 224.0h5.8v5.6h5.6v5.8h-5.6v5.6h-5.8v-5.6h-5.6v-5.8h5.6z"/>
<text x="1654.0" y="239.2" font-size="19.8" fill="#333">prHE</text>
<path fill="#9B59F7" d="M1636.5 266.0h5.8v5.6h5.6v5.8h-5.6v5.6h-5.8v-5.6h-5.6v-5.8h5.6z"/>
<text x="1654.0" y="281.2" font-size="19.8" fill="#333">prTN</text>
<path fill="#E02430" d="M1636.5 308.3h5.8v5.6h5.6v5.8h-5.6v5.6h-5.8v-5.6h-5.6v-5.8h5.6z"/>
<text x="1654.0" y="323.5" font-size="19.8" fill="#333">prTS</text>
<text x="1626" y="476.2" font-size="14.8" fill="#000">*** ≤ 0.001</text>
<g id="pb0">
<rect x="94.0" y="636.7" width="434.3" height="32.6" fill="#D9D9D9" stroke="#333" stroke-width="1.05"/>
<text x="311.3" y="661.9" font-size="21" font-weight="bold" text-anchor="middle" fill="#000">All ASVs</text>
<line x1="136.0" y1="669.3" x2="136.0" y2="1136.5" stroke="#EDEDED" stroke-width="1.0"/>
<line x1="94.0" y1="714.7" x2="528.3" y2="714.7" stroke="#EDEDED" stroke-width="1.0"/>
<line x1="206.1" y1="669.3" x2="206.1" y2="1136.5" stroke="#EDEDED" stroke-width="1.0"/>
<line x1="94.0" y1="790.1" x2="528.3" y2="790.1" stroke="#EDEDED" stroke-width="1.0"/>
<line x1="276.2" y1="669.3" x2="276.2" y2="1136.5" stroke="#EDEDED" stroke-width="1.0"/>
<line x1="94.0" y1="865.5" x2="528.3" y2="865.5" stroke="#EDEDED" stroke-width="1.0"/>
<line x1="346.3" y1="669.3" x2="346.3" y2="1136.5" stroke="#EDEDED" stroke-width="1.0"/>
<line x1="94.0" y1="940.9" x2="528.3" y2="940.9" stroke="#EDEDED" stroke-width="1.0"/>
<line x1="416.4" y1="669.3" x2="416.4" y2="1136.5" stroke="#EDEDED" stroke-width="1.0"/>
<line x1="94.0" y1="1016.3" x2="528.3" y2="1016.3" stroke="#EDEDED" stroke-width="1.0"/>
<line x1="486.5" y1="669.3" x2="486.5" y2="1136.5" stroke="#EDEDED" stroke-width="1.0"/>
<line x1="94.0" y1="1091.7" x2="528.3" y2="1091.7" stroke="#EDEDED" stroke-width="1.0"/>
<rect x="101.0" y="677.0" width="70.1" height="75.4" fill="#66BB6E" stroke="#fff" stroke-width="1.8"/>
<rect x="171.1" y="677.0" width="70.1" height="75.4" fill="#2A924A" stroke="#fff" stroke-width="1.8"/>
<rect x="241.2" y="677.0" width="70.1" height="75.4" fill="#3EA55B" stroke="#fff" stroke-width="1.8"/>
<rect x="311.3" y="677.0" width="70.1" height="75.4" fill="#0A6634" stroke="#fff" stroke-width="1.8"/>
<rect x="381.4" y="677.0" width="70.1" height="75.4" fill="#A1D99B" stroke="#fff" stroke-width="1.8"/>
<rect x="451.5" y="677.0" width="70.1" height="75.4" fill="#EDF8E9" stroke="#fff" stroke-width="1.8"/>
<text x="132.6" y="721.8" font-size="15.7" text-anchor="middle" fill="#000">***</text>
<text x="202.7" y="721.8" font-size="15.7" text-anchor="middle" fill="#000">***</text>
<text x="272.8" y="721.8" font-size="15.7" text-anchor="middle" fill="#000">***</text>
<text x="342.9" y="721.8" font-size="15.7" text-anchor="middle" fill="#000">***</text>
<text x="413.0" y="721.8" font-size="15.7" text-anchor="middle" fill="#000">***</text>
<rect x="101.0" y="752.4" width="70.1" height="75.4" fill="#66BB6E" stroke="#fff" stroke-width="1.8"/>
<rect x="171.1" y="752.4" width="70.1" height="75.4" fill="#37A055" stroke="#fff" stroke-width="1.8"/>
<rect x="241.2" y="752.4" width="70.1" height="75.4" fill="#47AA60" stroke="#fff" stroke-width="1.8"/>
<rect x="311.3" y="752.4" width="70.1" height="75.4" fill="#2A924A" stroke="#fff" stroke-width="1.8"/>
<rect x="381.4" y="752.4" width="70.1" height="75.4" fill="#EDF8E9" stroke="#fff" stroke-width="1.8"/>
<text x="132.6" y="797.2" font-size="15.7" text-anchor="middle" fill="#000">***</text>
<text x="202.7" y="797.2" font-size="15.7" text-anchor="middle" fill="#000">***</text>
<text x="272.8" y="797.2" font-size="15.7" text-anchor="middle" fill="#000">***</text>
<text x="342.9" y="797.2" font-size="15.7" text-anchor="middle" fill="#000">***</text>
<rect x="101.0" y="827.8" width="70.1" height="75.4" fill="#1A7D40" stroke="#fff" stroke-width="1.8"/>
<rect x="171.1" y="827.8" width="70.1" height="75.4" fill="#17783E" stroke="#fff" stroke-width="1.8"/>
<rect x="241.2" y="827.8" width="70.1" height="75.4" fill="#238B45" stroke="#fff" stroke-width="1.8"/>
<rect x="311.3" y="827.8" width="70.1" height="75.4" fill="#EDF8E9" stroke="#fff" stroke-width="1.8"/>
<text x="132.6" y="872.6" font-size="15.7" text-anchor="middle" fill="#000">***</text>
<text x="202.7" y="872.6" font-size="15.7" text-anchor="middle" fill="#000">***</text>
<text x="272.8" y="872.6" font-size="15.7" text-anchor="middle" fill="#000">***</text>
<rect x="101.0" y="903.2" width="70.1" height="75.4" fill="#95D391" stroke="#fff" stroke-width="1.8"/>
<rect x="171.1" y="903.2" width="70.1" height="75.4" fill="#86CC85" stroke="#fff" stroke-width="1.8"/>
<rect x="241.2" y="903.2" width="70.1" height="75.4" fill="#EDF8E9" stroke="#fff" stroke-width="1.8"/>
<text x="132.6" y="948.0" font-size="15.7" text-anchor="middle" fill="#000">**</text>
<text x="202.7" y="948.0" font-size="15.7" text-anchor="middle" fill="#000">***</text>
<rect x="101.0" y="978.6" width="70.1" height="75.4" fill="#6CBF73" stroke="#fff" stroke-width="1.8"/>
<rect x="171.1" y="978.6" width="70.1" height="75.4" fill="#EDF8E9" stroke="#fff" stroke-width="1.8"/>
<text x="132.6" y="1023.4" font-size="15.7" text-anchor="middle" fill="#000">***</text>
<rect x="101.0" y="1054.0" width="70.1" height="75.4" fill="#EDF8E9" stroke="#fff" stroke-width="1.8"/>
<rect x="94.0" y="669.3" width="434.3" height="467.2" fill="none" stroke="#333" stroke-width="1.05"/>
<line x1="136.0" y1="1136.5" x2="136.0" y2="1139.5" stroke="#333" stroke-width="1.1"/>
<text x="132.5" y="1158.8" font-size="18.5" text-anchor="middle" fill="#4D4D4D">piBS</text>
<line x1="206.1" y1="1136.5" x2="206.1" y2="1139.5" stroke="#333" stroke-width="1.1"/>
<text x="202.6" y="1158.8" font-size="18.5" text-anchor="middle" fill="#4D4D4D">piDL</text>
<line x1="276.2" y1="1136.5" x2="276.2" y2="1139.5" stroke="#333" stroke-width="1.1"/>
<text x="272.7" y="1158.8" font-size="18.5" text-anchor="middle" fill="#4D4D4D">piTS</text>
<line x1="346.3" y1="1136.5" x2="346.3" y2="1139.5" stroke="#333" stroke-width="1.1"/>
<text x="342.8" y="1158.8" font-size="18.5" text-anchor="middle" fill="#4D4D4D">prHE</text>
<line x1="416.4" y1="1136.5" x2="416.4" y2="1139.5" stroke="#333" stroke-width="1.1"/>
<text x="412.9" y="1158.8" font-size="18.5" text-anchor="middle" fill="#4D4D4D">prTN</text>
<line x1="486.5" y1="1136.5" x2="486.5" y2="1139.5" stroke="#333" stroke-width="1.1"/>
<text x="483.0" y="1158.8" font-size="18.5" text-anchor="middle" fill="#4D4D4D">prTS</text>
<line x1="91.0" y1="714.7" x2="94.0" y2="714.7" stroke="#333" stroke-width="1.1"/>
<text x="85.1" y="719.8" font-size="18.5" text-anchor="end" fill="#4D4D4D">prTS</text>
<line x1="91.0" y1="790.1" x2="94.0" y2="790.1" stroke="#333" stroke-width="1.1"/>
<text x="85.1" y="795.2" font-size="18.5" text-anchor="end" fill="#4D4D4D">prTN</text>
<line x1="91.0" y1="865.5" x2="94.0" y2="865.5" stroke="#333" stroke-width="1.1"/>
<text x="85.1" y="870.6" font-size="18.5" text-anchor="end" fill="#4D4D4D">prHE</text>
<line x1="91.0" y1="940.9" x2="94.0" y2="940.9" stroke="#333" stroke-width="1.1"/>
<text x="85.1" y="946.0" font-size="18.5" text-anchor="end" fill="#4D4D4D">piTS</text>
<line x1="91.0" y1="1016.3" x2="94.0" y2="1016.3" stroke="#333" stroke-width="1.1"/>
<text x="85.1" y="1021.4" font-size="18.5" text-anchor="end" fill="#4D4D4D">piDL</text>
<line x1="91.0" y1="1091.7" x2="94.0" y2="1091.7" stroke="#333" stroke-width="1.1"/>
<text x="85.1" y="1096.8" font-size="18.5" text-anchor="end" fill="#4D4D4D">piBS</text>
<text x="334.3" y="1041.7" font-size="17.3" fill="#000">pairwise PERMANOVAs</text>
<text x="334.3" y="1066.0" font-size="17.3" fill="#000">R² (mean) = 0.237</text>
<text x="334.3" y="1090.3" font-size="17.3" fill="#000">R² (max) = 0.346</text>
<text x="334.3" y="1114.6" font-size="17.3" fill="#000">R² (min) = 0.115</text>
</g>
<g id="pb1">
<rect x="638.7" y="635.7" width="434.6" height="33.3" fill="#D9D9D9" stroke="#333" stroke-width="1.05"/>
<text x="867.8" y="660.9" font-size="21" font-weight="bold" text-anchor="middle" fill="#000">Abundant ASVs</text>
<line x1="680.7" y1="669.0" x2="680.7" y2="1136.5" stroke="#EDEDED" stroke-width="1.0"/>
<line x1="638.7" y1="714.4" x2="1073.3" y2="714.4" stroke="#EDEDED" stroke-width="1.0"/>
<line x1="750.8" y1="669.0" x2="750.8" y2="1136.5" stroke="#EDEDED" stroke-width="1.0"/>
<line x1="638.7" y1="789.8" x2="1073.3" y2="789.8" stroke="#EDEDED" stroke-width="1.0"/>
<line x1="820.9" y1="669.0" x2="820.9" y2="1136.5" stroke="#EDEDED" stroke-width="1.0"/>
<line x1="638.7" y1="865.2" x2="1073.3" y2="865.2" stroke="#EDEDED" stroke-width="1.0"/>
<line x1="891.0" y1="669.0" x2="891.0" y2="1136.5" stroke="#EDEDED" stroke-width="1.0"/>
<line x1="638.7" y1="940.6" x2="1073.3" y2="940.6" stroke="#EDEDED" stroke-width="1.0"/>
<line x1="961.1" y1="669.0" x2="961.1" y2="1136.5" stroke="#EDEDED" stroke-width="1.0"/>
<line x1="638.7" y1="1016.0" x2="1073.3" y2="1016.0" stroke="#EDEDED" stroke-width="1.0"/>
<line x1="1031.2" y1="669.0" x2="1031.2" y2="1136.5" stroke="#EDEDED" stroke-width="1.0"/>
<line x1="638.7" y1="1091.4" x2="1073.3" y2="1091.4" stroke="#EDEDED" stroke-width="1.0"/>
<rect x="645.7" y="676.7" width="70.1" height="75.4" fill="#62B96B" stroke="#fff" stroke-width="1.8"/>
<rect x="715.8" y="676.7" width="70.1" height="75.4" fill="#258C46" stroke="#fff" stroke-width="1.8"/>
<rect x="785.9" y="676.7" width="70.1" height="75.4" fill="#3BA358" stroke="#fff" stroke-width="1.8"/>
<rect x="856.0" y="676.7" width="70.1" height="75.4" fill="#005E30" stroke="#fff" stroke-width="1.8"/>
<rect x="926.1" y="676.7" width="70.1" height="75.4" fill="#9CD797" stroke="#fff" stroke-width="1.8"/>
<rect x="996.2" y="676.7" width="70.1" height="75.4" fill="#EDF8E9" stroke="#fff" stroke-width="1.8"/>
<text x="677.3" y="721.5" font-size="15.7" text-anchor="middle" fill="#000">***</text>
<text x="747.4" y="721.5" font-size="15.7" text-anchor="middle" fill="#000">***</text>
<text x="817.5" y="721.5" font-size="15.7" text-anchor="middle" fill="#000">***</text>
<text x="887.6" y="721.5" font-size="15.7" text-anchor="middle" fill="#000">***</text>
<text x="957.7" y="721.5" font-size="15.7" text-anchor="middle" fill="#000">***</text>
<rect x="645.7" y="752.1" width="70.1" height="75.4" fill="#62B96B" stroke="#fff" stroke-width="1.8"/>
<rect x="715.8" y="752.1" width="70.1" height="75.4" fill="#339C52" stroke="#fff" stroke-width="1.8"/>
<rect x="785.9" y="752.1" width="70.1" height="75.4" fill="#47AA60" stroke="#fff" stroke-width="1.8"/>
<rect x="856.0" y="752.1" width="70.1" height="75.4" fill="#258C46" stroke="#fff" stroke-width="1.8"/>
<rect x="926.1" y="752.1" width="70.1" height="75.4" fill="#EDF8E9" stroke="#fff" stroke-width="1.8"/>
<text x="677.3" y="796.9" font-size="15.7" text-anchor="middle" fill="#000">***</text>
<text x="747.4" y="796.9" font-size="15.7" text-anchor="middle" fill="#000">***</text>
<text x="817.5" y="796.9" font-size="15.7" text-anchor="middle" fill="#000">***</text>
<text x="887.6" y="796.9" font-size="15.7" text-anchor="middle" fill="#000">***</text>
<rect x="645.7" y="827.5" width="70.1" height="75.4" fill="#1A7D40" stroke="#fff" stroke-width="1.8"/>
<rect x="715.8" y="827.5" width="70.1" height="75.4" fill="#15733C" stroke="#fff" stroke-width="1.8"/>
<rect x="785.9" y="827.5" width="70.1" height="75.4" fill="#238B45" stroke="#fff" stroke-width="1.8"/>
<rect x="856.0" y="827.5" width="70.1" height="75.4" fill="#EDF8E9" stroke="#fff" stroke-width="1.8"/>
<text x="677.3" y="872.3" font-size="15.7" text-anchor="middle" fill="#000">***</text>
<text x="747.4" y="872.3" font-size="15.7" text-anchor="middle" fill="#000">***</text>
<text x="817.5" y="872.3" font-size="15.7" text-anchor="middle" fill="#000">***</text>
<rect x="645.7" y="902.9" width="70.1" height="75.4" fill="#93D28F" stroke="#fff" stroke-width="1.8"/>
<rect x="715.8" y="902.9" width="70.1" height="75.4" fill="#86CC85" stroke="#fff" stroke-width="1.8"/>
<rect x="785.9" y="902.9" width="70.1" height="75.4" fill="#EDF8E9" stroke="#fff" stroke-width="1.8"/>
<text x="677.3" y="947.7" font-size="15.7" text-anchor="middle" fill="#000">**</text>
<text x="747.4" y="947.7" font-size="15.7" text-anchor="middle" fill="#000">***</text>
<rect x="645.7" y="978.3" width="70.1" height="75.4" fill="#6CBF73" stroke="#fff" stroke-width="1.8"/>
<rect x="715.8" y="978.3" width="70.1" height="75.4" fill="#EDF8E9" stroke="#fff" stroke-width="1.8"/>
<text x="677.3" y="1023.1" font-size="15.7" text-anchor="middle" fill="#000">***</text>
<rect x="645.7" y="1053.7" width="70.1" height="75.4" fill="#EDF8E9" stroke="#fff" stroke-width="1.8"/>
<rect x="638.7" y="669.0" width="434.6" height="467.5" fill="none" stroke="#333" stroke-width="1.05"/>
<line x1="680.7" y1="1136.5" x2="680.7" y2="1139.5" stroke="#333" stroke-width="1.1"/>
<text x="677.2" y="1158.8" font-size="18.5" text-anchor="middle" fill="#4D4D4D">piBS</text>
<line x1="750.8" y1="1136.5" x2="750.8" y2="1139.5" stroke="#333" stroke-width="1.1"/>
<text x="747.3" y="1158.8" font-size="18.5" text-anchor="middle" fill="#4D4D4D">piDL</text>
<line x1="820.9" y1="1136.5" x2="820.9" y2="1139.5" stroke="#333" stroke-width="1.1"/>
<text x="817.4" y="1158.8" font-size="18.5" text-anchor="middle" fill="#4D4D4D">piTS</text>
<line x1="891.0" y1="1136.5" x2="891.0" y2="1139.5" stroke="#333" stroke-width="1.1"/>
<text x="887.5" y="1158.8" font-size="18.5" text-anchor="middle" fill="#4D4D4D">prHE</text>
<line x1="961.1" y1="1136.5" x2="961.1" y2="1139.5" stroke="#333" stroke-width="1.1"/>
<text x="957.6" y="1158.8" font-size="18.5" text-anchor="middle" fill="#4D4D4D">prTN</text>
<line x1="1031.2" y1="1136.5" x2="1031.2" y2="1139.5" stroke="#333" stroke-width="1.1"/>
<text x="1027.7" y="1158.8" font-size="18.5" text-anchor="middle" fill="#4D4D4D">prTS</text>
<text x="879.3" y="1041.7" font-size="17.3" fill="#000">pairwise PERMANOVAs</text>
<text x="879.3" y="1066.0" font-size="17.3" fill="#000">R² (mean) = 0.244</text>
<text x="879.3" y="1090.3" font-size="17.3" fill="#000">R² (max) = 0.357</text>
<text x="879.3" y="1114.6" font-size="17.3" fill="#000">R² (min) = 0.117</text>
</g>
<g id="pb2">
<rect x="1176.7" y="634.7" width="434.6" height="33.6" fill="#D9D9D9" stroke="#333" stroke-width="1.05"/>
<text x="1406.2" y="659.9" font-size="21" font-weight="bold" text-anchor="middle" fill="#000">Rare ASVs</text>
<line x1="1218.5" y1="668.3" x2="1218.5" y2="1136.5" stroke="#EDEDED" stroke-width="1.0"/>
<line x1="1176.7" y1="713.6" x2="1611.3" y2="713.6" stroke="#EDEDED" stroke-width="1.0"/>
<line x1="1288.6" y1="668.3" x2="1288.6" y2="1136.5" stroke="#EDEDED" stroke-width="1.0"/>
<line x1="1176.7" y1="789.0" x2="1611.3" y2="789.0" stroke="#EDEDED" stroke-width="1.0"/>
<line x1="1358.7" y1="668.3" x2="1358.7" y2="1136.5" stroke="#EDEDED" stroke-width="1.0"/>
<line x1="1176.7" y1="864.4" x2="1611.3" y2="864.4" stroke="#EDEDED" stroke-width="1.0"/>
<line x1="1428.8" y1="668.3" x2="1428.8" y2="1136.5" stroke="#EDEDED" stroke-width="1.0"/>
<line x1="1176.7" y1="939.8" x2="1611.3" y2="939.8" stroke="#EDEDED" stroke-width="1.0"/>
<line x1="1498.9" y1="668.3" x2="1498.9" y2="1136.5" stroke="#EDEDED" stroke-width="1.0"/>
<line x1="1176.7" y1="1015.2" x2="1611.3" y2="1015.2" stroke="#EDEDED" stroke-width="1.0"/>
<line x1="1569.0" y1="668.3" x2="1569.0" y2="1136.5" stroke="#EDEDED" stroke-width="1.0"/>
<line x1="1176.7" y1="1090.6" x2="1611.3" y2="1090.6" stroke="#EDEDED" stroke-width="1.0"/>
<rect x="1183.5" y="675.9" width="70.1" height="75.4" fill="#8CCF8A" stroke="#fff" stroke-width="1.8"/>
<rect x="1253.6" y="675.9" width="70.1" height="75.4" fill="#77C57A" stroke="#fff" stroke-width="1.8"/>
<rect x="1323.7" y="675.9" width="70.1" height="75.4" fill="#74C476" stroke="#fff" stroke-width="1.8"/>
<rect x="1393.8" y="675.9" width="70.1" height="75.4" fill="#2F9850" stroke="#fff" stroke-width="1.8"/>
<rect x="1463.9" y="675.9" width="70.1" height="75.4" fill="#B4E1AD" stroke="#fff" stroke-width="1.8"/>
<rect x="1534.0" y="675.9" width="70.1" height="75.4" fill="#EDF8E9" stroke="#fff" stroke-width="1.8"/>
<text x="1215.1" y="720.7" font-size="15.7" text-anchor="middle" fill="#000">***</text>
<text x="1285.2" y="720.7" font-size="15.7" text-anchor="middle" fill="#000">***</text>
<text x="1355.3" y="720.7" font-size="15.7" text-anchor="middle" fill="#000">***</text>
<text x="1425.4" y="720.7" font-size="15.7" text-anchor="middle" fill="#000">***</text>
<text x="1495.5" y="720.7" font-size="15.7" text-anchor="middle" fill="#000">**</text>
<rect x="1183.5" y="751.3" width="70.1" height="75.4" fill="#86CC86" stroke="#fff" stroke-width="1.8"/>
<rect x="1253.6" y="751.3" width="70.1" height="75.4" fill="#7CC87E" stroke="#fff" stroke-width="1.8"/>
<rect x="1323.7" y="751.3" width="70.1" height="75.4" fill="#79C67B" stroke="#fff" stroke-width="1.8"/>
<rect x="1393.8" y="751.3" width="70.1" height="75.4" fill="#48AB62" stroke="#fff" stroke-width="1.8"/>
<rect x="1463.9" y="751.3" width="70.1" height="75.4" fill="#EDF8E9" stroke="#fff" stroke-width="1.8"/>
<text x="1215.1" y="796.1" font-size="15.7" text-anchor="middle" fill="#000">***</text>
<text x="1285.2" y="796.1" font-size="15.7" text-anchor="middle" fill="#000">***</text>
<text x="1355.3" y="796.1" font-size="15.7" text-anchor="middle" fill="#000">***</text>
<text x="1425.4" y="796.1" font-size="15.7" text-anchor="middle" fill="#000">***</text>
<rect x="1183.5" y="826.7" width="70.1" height="75.4" fill="#1A7D41" stroke="#fff" stroke-width="1.8"/>
<rect x="1253.6" y="826.7" width="70.1" height="75.4" fill="#2B934B" stroke="#fff" stroke-width="1.8"/>
<rect x="1323.7" y="826.7" width="70.1" height="75.4" fill="#2F964E" stroke="#fff" stroke-width="1.8"/>
<rect x="1393.8" y="826.7" width="70.1" height="75.4" fill="#EDF8E9" stroke="#fff" stroke-width="1.8"/>
<text x="1215.1" y="871.5" font-size="15.7" text-anchor="middle" fill="#000">***</text>
<text x="1285.2" y="871.5" font-size="15.7" text-anchor="middle" fill="#000">***</text>
<text x="1355.3" y="871.5" font-size="15.7" text-anchor="middle" fill="#000">***</text>
<rect x="1183.5" y="902.1" width="70.1" height="75.4" fill="#9AD696" stroke="#fff" stroke-width="1.8"/>
<rect x="1253.6" y="902.1" width="70.1" height="75.4" fill="#97D494" stroke="#fff" stroke-width="1.8"/>
<rect x="1323.7" y="902.1" width="70.1" height="75.4" fill="#EDF8E9" stroke="#fff" stroke-width="1.8"/>
<text x="1215.1" y="946.9" font-size="15.7" text-anchor="middle" fill="#000">**</text>
<text x="1285.2" y="946.9" font-size="15.7" text-anchor="middle" fill="#000">***</text>
<rect x="1183.5" y="977.5" width="70.1" height="75.4" fill="#92D28F" stroke="#fff" stroke-width="1.8"/>
<rect x="1253.6" y="977.5" width="70.1" height="75.4" fill="#EDF8E9" stroke="#fff" stroke-width="1.8"/>
<text x="1215.1" y="1022.3" font-size="15.7" text-anchor="middle" fill="#000">***</text>
<rect x="1183.5" y="1052.9" width="70.1" height="75.4" fill="#EDF8E9" stroke="#fff" stroke-width="1.8"/>
<rect x="1176.7" y="668.3" width="434.6" height="468.2" fill="none" stroke="#333" stroke-width="1.05"/>
<line x1="1218.5" y1="1136.5" x2="1218.5" y2="1139.5" stroke="#333" stroke-width="1.1"/>
<text x="1215.0" y="1158.8" font-size="18.5" text-anchor="middle" fill="#4D4D4D">piBS</text>
<line x1="1288.6" y1="1136.5" x2="1288.6" y2="1139.5" stroke="#333" stroke-width="1.1"/>
<text x="1285.1" y="1158.8" font-size="18.5" text-anchor="middle" fill="#4D4D4D">piDL</text>
<line x1="1358.7" y1="1136.5" x2="1358.7" y2="1139.5" stroke="#333" stroke-width="1.1"/>
<text x="1355.2" y="1158.8" font-size="18.5" text-anchor="middle" fill="#4D4D4D">piTS</text>
<line x1="1428.8" y1="1136.5" x2="1428.8" y2="1139.5" stroke="#333" stroke-width="1.1"/>
<text x="1425.3" y="1158.8" font-size="18.5" text-anchor="middle" fill="#4D4D4D">prHE</text>
<line x1="1498.9" y1="1136.5" x2="1498.9" y2="1139.5" stroke="#333" stroke-width="1.1"/>
<text x="1495.4" y="1158.8" font-size="18.5" text-anchor="middle" fill="#4D4D4D">prTN</text>
<line x1="1569.0" y1="1136.5" x2="1569.0" y2="1139.5" stroke="#333" stroke-width="1.1"/>
<text x="1565.5" y="1158.8" font-size="18.5" text-anchor="middle" fill="#4D4D4D">prTS</text>
<text x="1417.7" y="1045.7" font-size="17.3" fill="#000">pairwise PERMANOVAs</text>
<text x="1417.7" y="1070.0" font-size="17.3" fill="#000">R² (mean) = 0.192</text>
<text x="1417.7" y="1094.3" font-size="17.3" fill="#000">R² (max) = 0.310</text>
<text x="1417.7" y="1118.6" font-size="17.3" fill="#000">R² (min) = 0.088</text>
</g>
<text x="854" y="1201.5" font-size="20.5" text-anchor="middle" fill="#000">poplulations</text>
<defs><linearGradient id="gr" x1="0" y1="1" x2="0" y2="0"><stop offset="0" stop-color="#EDF8E9"/><stop offset="0.25" stop-color="#BAE4B3"/><stop offset="0.5" stop-color="#74C476"/><stop offset="0.75" stop-color="#31A354"/><stop offset="1" stop-color="#006D2C"/></linearGradient></defs>
<text x="1626" y="959.5" font-size="17.5" fill="#000">R²</text>
<rect x="1625.9" y="965.9" width="16.1" height="80.8" fill="url(#gr)"/>
<line x1="1625.9" y1="979.3" x2="1629" y2="979.3" stroke="#fff" stroke-opacity="0.8" stroke-width="1"/>
<line x1="1638.9" y1="979.3" x2="1642" y2="979.3" stroke="#fff" stroke-opacity="0.8" stroke-width="1"/>
<text x="1646.7" y="982.4" font-size="17" fill="#222">0.3</text>
<line x1="1625.9" y1="1001.6" x2="1629" y2="1001.6" stroke="#fff" stroke-opacity="0.8" stroke-width="1"/>
<line x1="1638.9" y1="1001.6" x2="1642" y2="1001.6" stroke="#fff" stroke-opacity="0.8" stroke-width="1"/>
<text x="1646.7" y="1005.0" font-size="17" fill="#222">0.2</text>
<line x1="1625.9" y1="1024.1" x2="1629" y2="1024.1" stroke="#fff" stroke-opacity="0.8" stroke-width="1"/>
<line x1="1638.9" y1="1024.1" x2="1642" y2="1024.1" stroke="#fff" stroke-opacity="0.8" stroke-width="1"/>
<text x="1646.7" y="1027.1" font-size="17" fill="#222">0.1</text>
<text x="1646.7" y="1049.3" font-size="17" fill="#222">0.0</text>
<text x="1625.4" y="1085.6" font-size="19.8" fill="#000">***</text>
<text x="1652.7" y="1081.3" font-size="14.8" fill="#000">≤ 0.01</text>
<text x="1625.4" y="1110.3" font-size="19.8" fill="#000">**</text>
<text x="1652.7" y="1106.0" font-size="14.8" fill="#000">≤ 0.05</text>
<text x="1625.4" y="1134.6" font-size="19.8" fill="#000">*</text>
<text x="1652.7" y="1130.3" font-size="14.8" fill="#000">≤ 0.1</text>
<g id="pc">
<rect x="67.0" y="1265.4" width="1627.4" height="723.0" fill="#fff"/>
<line x1="67.0" y1="1874.8" x2="1694.4" y2="1874.8" stroke="#EDEDED" stroke-width="0.8"/>
<line x1="67.0" y1="1712.2" x2="1694.4" y2="1712.2" stroke="#EDEDED" stroke-width="0.8"/>
<line x1="67.0" y1="1549.8" x2="1694.4" y2="1549.8" stroke="#EDEDED" stroke-width="0.8"/>
<line x1="67.0" y1="1387.2" x2="1694.4" y2="1387.2" stroke="#EDEDED" stroke-width="0.8"/>
<line x1="67.0" y1="1956.0" x2="1694.4" y2="1956.0" stroke="#EBEBEB" stroke-width="1.15"/>
<line x1="67.0" y1="1793.5" x2="1694.4" y2="1793.5" stroke="#EBEBEB" stroke-width="1.15"/>
<line x1="67.0" y1="1631.0" x2="1694.4" y2="1631.0" stroke="#EBEBEB" stroke-width="1.15"/>
<line x1="67.0" y1="1468.5" x2="1694.4" y2="1468.5" stroke="#EBEBEB" stroke-width="1.15"/>
<line x1="67.0" y1="1306.0" x2="1694.4" y2="1306.0" stroke="#EBEBEB" stroke-width="1.15"/>
<line x1="131.2" y1="1265.4" x2="131.2" y2="1988.4" stroke="#EBEBEB" stroke-width="1.15"/>
<line x1="238.3" y1="1265.4" x2="238.3" y2="1988.4" stroke="#EBEBEB" stroke-width="1.15"/>
<line x1="345.4" y1="1265.4" x2="345.4" y2="1988.4" stroke="#EBEBEB" stroke-width="1.15"/>
<line x1="452.5" y1="1265.4" x2="452.5" y2="1988.4" stroke="#EBEBEB" stroke-width="1.15"/>
<line x1="559.6" y1="1265.4" x2="559.6" y2="1988.4" stroke="#EBEBEB" stroke-width="1.15"/>
<line x1="666.7" y1="1265.4" x2="666.7" y2="1988.4" stroke="#EBEBEB" stroke-width="1.15"/>
<line x1="773.8" y1="1265.4" x2="773.8" y2="1988.4" stroke="#EBEBEB" stroke-width="1.15"/>
<line x1="880.9" y1="1265.4" x2="880.9" y2="1988.4" stroke="#EBEBEB" stroke-width="1.15"/>
<line x1="988.0" y1="1265.4" x2="988.0" y2="1988.4" stroke="#EBEBEB" stroke-width="1.15"/>
<line x1="1095.1" y1="1265.4" x2="1095.1" y2="1988.4" stroke="#EBEBEB" stroke-width="1.15"/>
<line x1="1202.2" y1="1265.4" x2="1202.2" y2="1988.4" stroke="#EBEBEB" stroke-width="1.15"/>
<line x1="1309.3" y1="1265.4" x2="1309.3" y2="1988.4" stroke="#EBEBEB" stroke-width="1.15"/>
<line x1="1416.4" y1="1265.4" x2="1416.4" y2="1988.4" stroke="#EBEBEB" stroke-width="1.15"/>
<line x1="1523.5" y1="1265.4" x2="1523.5" y2="1988.4" stroke="#EBEBEB" stroke-width="1.15"/>
<line x1="1630.6" y1="1265.4" x2="1630.6" y2="1988.4" stroke="#EBEBEB" stroke-width="1.15"/>
<rect x="88.4" y="1652.9" width="85.6" height="303.1" fill="#5151FF" stroke="#111" stroke-width="1.1"/>
<path d="M115.2 1595.0h32M115.2 1711.0h32M131.2 1595.0V1711.0" stroke="#111" stroke-width="1.3" fill="none"/>
<text x="130.7" y="1440.3" font-size="20.5" text-anchor="middle" fill="#000">f</text>
<line x1="131.2" y1="1988.4" x2="131.2" y2="1991.4" stroke="#333" stroke-width="1.1"/>
<text transform="translate(148.2,2009.4) rotate(-45)" font-size="18.6" text-anchor="end" fill="#4D4D4D">prTN vs prTS</text>
<rect x="195.5" y="1631.4" width="85.6" height="324.6" fill="#CE3B30" stroke="#111" stroke-width="1.1"/>
<path d="M222.3 1567.5h32M222.3 1695.4h32M238.3 1567.5V1695.4" stroke="#111" stroke-width="1.3" fill="none"/>
<text x="237.5" y="1440.3" font-size="20.5" text-anchor="middle" fill="#000">bcdef</text>
<line x1="238.3" y1="1988.4" x2="238.3" y2="1991.4" stroke="#333" stroke-width="1.1"/>
<text transform="translate(255.3,2009.4) rotate(-45)" font-size="18.6" text-anchor="end" fill="#4D4D4D">piTS vs prTS</text>
<rect x="302.6" y="1623.6" width="85.6" height="332.4" fill="#789D58" stroke="#111" stroke-width="1.1"/>
<path d="M329.4 1561.0h32M329.4 1686.4h32M345.4 1561.0V1686.4" stroke="#111" stroke-width="1.3" fill="none"/>
<text x="344.4" y="1440.3" font-size="20.5" text-anchor="middle" fill="#000">abcd</text>
<line x1="345.4" y1="1988.4" x2="345.4" y2="1991.4" stroke="#333" stroke-width="1.1"/>
<text transform="translate(362.4,2009.4) rotate(-45)" font-size="18.6" text-anchor="end" fill="#4D4D4D">piTS vs prTN</text>
<rect x="409.7" y="1623.8" width="85.6" height="332.2" fill="#F0E384" stroke="#111" stroke-width="1.1"/>
<path d="M436.5 1561.4h32M436.5 1686.0h32M452.5 1561.4V1686.0" stroke="#111" stroke-width="1.3" fill="none"/>
<text x="451.2" y="1440.3" font-size="20.5" text-anchor="middle" fill="#000">abcd</text>
<line x1="452.5" y1="1988.4" x2="452.5" y2="1991.4" stroke="#333" stroke-width="1.1"/>
<text transform="translate(469.5,2009.4) rotate(-45)" font-size="18.6" text-anchor="end" fill="#4D4D4D">piBS vs piDL</text>
<rect x="516.8" y="1618.6" width="85.6" height="337.4" fill="#45677F" stroke="#111" stroke-width="1.1"/>
<path d="M543.6 1557.9h32M543.6 1678.9h32M559.6 1557.9V1678.9" stroke="#111" stroke-width="1.3" fill="none"/>
<text x="558.0" y="1440.3" font-size="20.5" text-anchor="middle" fill="#000">abc</text>
<line x1="559.6" y1="1988.4" x2="559.6" y2="1991.4" stroke="#333" stroke-width="1.1"/>
<text transform="translate(576.6,2009.4) rotate(-45)" font-size="18.6" text-anchor="end" fill="#4D4D4D">piBS vs piTS</text>
<rect x="623.9" y="1649.6" width="85.6" height="306.4" fill="#B86437" stroke="#111" stroke-width="1.1"/>
<path d="M650.7 1596.1h32M650.7 1702.5h32M666.7 1596.1V1702.5" stroke="#111" stroke-width="1.3" fill="none"/>
<text x="664.9" y="1440.3" font-size="20.5" text-anchor="middle" fill="#000">ef</text>
<line x1="666.7" y1="1988.4" x2="666.7" y2="1991.4" stroke="#333" stroke-width="1.1"/>
<text transform="translate(683.7,2009.4) rotate(-45)" font-size="18.6" text-anchor="end" fill="#4D4D4D">piDL vs piTS</text>
<rect x="731.0" y="1642.5" width="85.6" height="313.5" fill="#5EB1DF" stroke="#111" stroke-width="1.1"/>
<path d="M757.8 1570.7h32M757.8 1713.9h32M773.8 1570.7V1713.9" stroke="#111" stroke-width="1.3" fill="none"/>
<text x="771.7" y="1440.3" font-size="20.5" text-anchor="middle" fill="#000">cdef</text>
<line x1="773.8" y1="1988.4" x2="773.8" y2="1991.4" stroke="#333" stroke-width="1.1"/>
<text transform="translate(790.8,2009.4) rotate(-45)" font-size="18.6" text-anchor="end" fill="#4D4D4D">prHE vs prTS</text>
<rect x="838.1" y="1645.0" width="85.6" height="311.0" fill="#7F2067" stroke="#111" stroke-width="1.1"/>
<path d="M864.9 1577.1h32M864.9 1712.1h32M880.9 1577.1V1712.1" stroke="#111" stroke-width="1.3" fill="none"/>
<text x="878.5" y="1440.3" font-size="20.5" text-anchor="middle" fill="#000">def</text>
<line x1="880.9" y1="1988.4" x2="880.9" y2="1991.4" stroke="#333" stroke-width="1.1"/>
<text transform="translate(897.9,2009.4) rotate(-45)" font-size="18.6" text-anchor="end" fill="#4D4D4D">prHE vs prTN</text>
<rect x="945.2" y="1609.6" width="85.6" height="346.4" fill="#67D768" stroke="#111" stroke-width="1.1"/>
<path d="M972.0 1547.9h32M972.0 1671.4h32M988.0 1547.9V1671.4" stroke="#111" stroke-width="1.3" fill="none"/>
<text x="985.3" y="1440.3" font-size="20.5" text-anchor="middle" fill="#000">a</text>
<line x1="988.0" y1="1988.4" x2="988.0" y2="1991.4" stroke="#333" stroke-width="1.1"/>
<text transform="translate(1005.0,2009.4) rotate(-45)" font-size="18.6" text-anchor="end" fill="#4D4D4D">piBS vs prTN</text>
<rect x="1052.3" y="1617.5" width="85.6" height="338.5" fill="#D690A7" stroke="#111" stroke-width="1.1"/>
<path d="M1079.1 1557.5h32M1079.1 1677.5h32M1095.1 1557.5V1677.5" stroke="#111" stroke-width="1.3" fill="none"/>
<text x="1092.2" y="1440.3" font-size="20.5" text-anchor="middle" fill="#000">ab</text>
<line x1="1095.1" y1="1988.4" x2="1095.1" y2="1991.4" stroke="#333" stroke-width="1.1"/>
<text transform="translate(1112.1,2009.4) rotate(-45)" font-size="18.6" text-anchor="end" fill="#4D4D4D">piBS vs prTS</text>
<rect x="1159.4" y="1629.3" width="85.6" height="326.7" fill="#8E4824" stroke="#111" stroke-width="1.1"/>
<path d="M1186.2 1563.6h32M1186.2 1694.6h32M1202.2 1563.6V1694.6" stroke="#111" stroke-width="1.3" fill="none"/>
<text x="1199.0" y="1440.3" font-size="20.5" text-anchor="middle" fill="#000">bcde</text>
<line x1="1202.2" y1="1988.4" x2="1202.2" y2="1991.4" stroke="#333" stroke-width="1.1"/>
<text transform="translate(1219.2,2009.4) rotate(-45)" font-size="18.6" text-anchor="end" fill="#4D4D4D">piDL vs prTN</text>
<rect x="1266.5" y="1631.4" width="85.6" height="324.6" fill="#81798B" stroke="#111" stroke-width="1.1"/>
<path d="M1293.3 1565.7h32M1293.3 1697.1h32M1309.3 1565.7V1697.1" stroke="#111" stroke-width="1.3" fill="none"/>
<text x="1305.8" y="1440.3" font-size="20.5" text-anchor="middle" fill="#000">bcdef</text>
<line x1="1309.3" y1="1988.4" x2="1309.3" y2="1991.4" stroke="#333" stroke-width="1.1"/>
<text transform="translate(1326.3,2009.4) rotate(-45)" font-size="18.6" text-anchor="end" fill="#4D4D4D">piDL vs prTS</text>
<rect x="1373.6" y="1648.2" width="85.6" height="307.8" fill="#C35026" stroke="#111" stroke-width="1.1"/>
<path d="M1400.4 1582.9h32M1400.4 1713.6h32M1416.4 1582.9V1713.6" stroke="#111" stroke-width="1.3" fill="none"/>
<text x="1412.7" y="1440.3" font-size="20.5" text-anchor="middle" fill="#000">def</text>
<line x1="1416.4" y1="1988.4" x2="1416.4" y2="1991.4" stroke="#333" stroke-width="1.1"/>
<text transform="translate(1433.4,2009.4) rotate(-45)" font-size="18.6" text-anchor="end" fill="#4D4D4D">piTS vs prHE</text>
<rect x="1480.7" y="1617.9" width="85.6" height="338.1" fill="#D58D5C" stroke="#111" stroke-width="1.1"/>
<path d="M1507.5 1541.8h32M1507.5 1693.9h32M1523.5 1541.8V1693.9" stroke="#111" stroke-width="1.3" fill="none"/>
<text x="1519.5" y="1440.3" font-size="20.5" text-anchor="middle" fill="#000">ab</text>
<line x1="1523.5" y1="1988.4" x2="1523.5" y2="1991.4" stroke="#333" stroke-width="1.1"/>
<text transform="translate(1540.5,2009.4) rotate(-45)" font-size="18.6" text-anchor="end" fill="#4D4D4D">piBS vs prHE</text>
<rect x="1587.8" y="1650.4" width="85.6" height="305.6" fill="#7A62A3" stroke="#111" stroke-width="1.1"/>
<path d="M1614.6 1587.9h32M1614.6 1712.5h32M1630.6 1587.9V1712.5" stroke="#111" stroke-width="1.3" fill="none"/>
<text x="1626.3" y="1440.3" font-size="20.5" text-anchor="middle" fill="#000">ef</text>
<line x1="1630.6" y1="1988.4" x2="1630.6" y2="1991.4" stroke="#333" stroke-width="1.1"/>
<text transform="translate(1647.6,2009.4) rotate(-45)" font-size="18.6" text-anchor="end" fill="#4D4D4D">piDL vs prHE</text>
<rect x="88.4" y="1959.8" width="85.6" height="24" fill="#000"/>
<rect x="195.5" y="1959.8" width="192.7" height="24" fill="#666"/>
<rect x="409.7" y="1959.8" width="514.0" height="24" fill="#B3B3B3"/>
<rect x="945.2" y="1959.8" width="728.2" height="24" fill="#E5E5E5"/>
<rect x="67.0" y="1265.4" width="1627.4" height="723.0" fill="none" stroke="#333" stroke-width="1.05"/>
<line x1="64.0" y1="1956.0" x2="67.0" y2="1956.0" stroke="#333" stroke-width="1.1"/>
<text x="59.0" y="1962.6" font-size="18.5" text-anchor="end" fill="#4D4D4D">0.0</text>
<line x1="64.0" y1="1793.5" x2="67.0" y2="1793.5" stroke="#333" stroke-width="1.1"/>
<text x="59.0" y="1800.1" font-size="18.5" text-anchor="end" fill="#4D4D4D">0.2</text>
<line x1="64.0" y1="1631.0" x2="67.0" y2="1631.0" stroke="#333" stroke-width="1.1"/>
<text x="59.0" y="1637.6" font-size="18.5" text-anchor="end" fill="#4D4D4D">0.4</text>
<line x1="64.0" y1="1468.5" x2="67.0" y2="1468.5" stroke="#333" stroke-width="1.1"/>
<text x="59.0" y="1475.1" font-size="18.5" text-anchor="end" fill="#4D4D4D">0.6</text>
<line x1="64.0" y1="1306.0" x2="67.0" y2="1306.0" stroke="#333" stroke-width="1.1"/>
<text x="59.0" y="1312.6" font-size="18.5" text-anchor="end" fill="#4D4D4D">0.8</text>
<text transform="translate(24.2,1630) rotate(-90)" font-size="18.7" text-anchor="middle" fill="#000">Dissimilarity (GUniFrac)</text>
<rect x="359.0" y="2126.0" width="86.6" height="23.4" fill="#000"/>
<text x="455.3" y="2144.0" font-size="20.8" fill="#000">sympatric congeneric populations</text>
<rect x="359.0" y="2181.2" width="86.6" height="23.4" fill="#666"/>
<text x="455.3" y="2202.4" font-size="20.8" fill="#000">sympatric heterogenetic populations</text>
<rect x="834.3" y="2126.0" width="86.6" height="23.4" fill="#B3B3B3"/>
<text x="930.6" y="2144.0" font-size="20.8" fill="#000">allopatric congeneric populations</text>
<rect x="834.3" y="2181.2" width="86.6" height="23.4" fill="#E5E5E5"/>
<text x="930.6" y="2202.4" font-size="20.8" fill="#000">allopatric heterogenetic populations</text>
</g>
</svg></body></html>
